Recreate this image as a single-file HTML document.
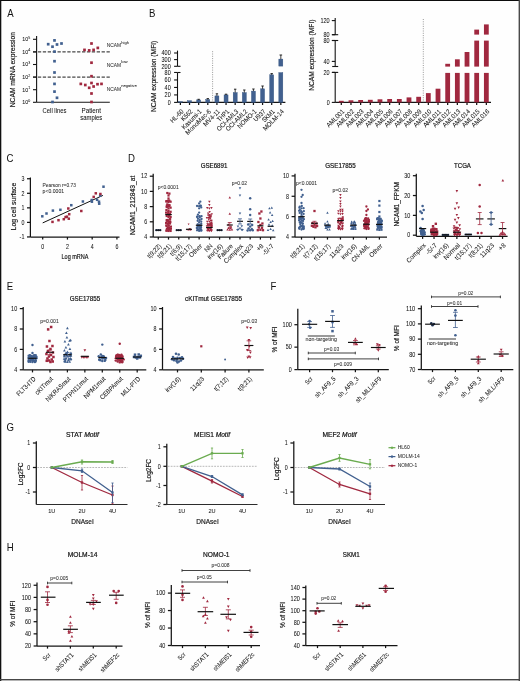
<!DOCTYPE html>
<html><head><meta charset="utf-8"><style>
html,body{margin:0;padding:0;background:#fff;}
svg{display:block;font-family:"Liberation Sans", sans-serif;will-change:transform;}
text{stroke:#141414;stroke-width:0.05px;}
</style></head><body>
<svg width="520" height="681" viewBox="0 0 520 681">
<rect width="520" height="681" fill="#fefefe"/>
<rect x="0" y="0" width="520" height="1" fill="#0c0c0c"/>
<rect x="0" y="0" width="1.3" height="681" fill="#101010"/>
<rect x="518.6" y="0" width="1.4" height="681" fill="#4a4a4a"/>
<rect x="0" y="679" width="520" height="1.4" fill="#464646"/>
<text x="0" y="0" font-size="11.2" fill="#111" style="stroke:none" transform="translate(7.3 16.5) scale(0.86 1)">A</text>
<line x1="36.6" y1="36" x2="36.6" y2="102.3" stroke="#141414" stroke-width="1.1"/>
<line x1="36.6" y1="102.3" x2="109.8" y2="102.3" stroke="#141414" stroke-width="1.1"/>
<line x1="33" y1="102.3" x2="36.6" y2="102.3" stroke="#141414" stroke-width="1.1"/>
<text x="28.2" y="104.2" font-size="5.3" fill="#141414" text-anchor="end">10</text>
<text x="28.3" y="101.7" font-size="3.6" fill="#141414">0</text>
<line x1="33" y1="89.7" x2="36.6" y2="89.7" stroke="#141414" stroke-width="1.1"/>
<text x="28.2" y="91.6" font-size="5.3" fill="#141414" text-anchor="end">10</text>
<text x="28.3" y="89.1" font-size="3.6" fill="#141414">1</text>
<line x1="33" y1="77.1" x2="36.6" y2="77.1" stroke="#141414" stroke-width="1.1"/>
<text x="28.2" y="79" font-size="5.3" fill="#141414" text-anchor="end">10</text>
<text x="28.3" y="76.5" font-size="3.6" fill="#141414">2</text>
<line x1="33" y1="64.5" x2="36.6" y2="64.5" stroke="#141414" stroke-width="1.1"/>
<text x="28.2" y="66.4" font-size="5.3" fill="#141414" text-anchor="end">10</text>
<text x="28.3" y="63.9" font-size="3.6" fill="#141414">3</text>
<line x1="33" y1="51.9" x2="36.6" y2="51.9" stroke="#141414" stroke-width="1.1"/>
<text x="28.2" y="53.8" font-size="5.3" fill="#141414" text-anchor="end">10</text>
<text x="28.3" y="51.3" font-size="3.6" fill="#141414">4</text>
<line x1="33" y1="39.3" x2="36.6" y2="39.3" stroke="#141414" stroke-width="1.1"/>
<text x="28.2" y="41.2" font-size="5.3" fill="#141414" text-anchor="end">10</text>
<text x="28.3" y="38.7" font-size="3.6" fill="#141414">5</text>
<line x1="33" y1="51.9" x2="109.8" y2="51.9" stroke="#1a1a1a" stroke-width="1" stroke-dasharray="3.3 1.6"/>
<line x1="33" y1="77.1" x2="109.8" y2="77.1" stroke="#1a1a1a" stroke-width="1" stroke-dasharray="3.3 1.6"/>
<text x="12.6" y="69.6" font-size="6.85" fill="#141414" text-anchor="middle" transform="rotate(-90 12.6 69.6)" textLength="75.34" lengthAdjust="spacingAndGlyphs" dominant-baseline="central" style="stroke-width:0.16px">NCAM mRNA expression</text>
<rect x="53.15" y="39.05" width="2.7" height="2.7" fill="#41608f"/>
<rect x="46.85" y="42.85" width="2.7" height="2.7" fill="#41608f"/>
<rect x="51.15" y="45.35" width="2.7" height="2.7" fill="#41608f"/>
<rect x="55.65" y="43.15" width="2.7" height="2.7" fill="#41608f"/>
<rect x="60.15" y="42.15" width="2.7" height="2.7" fill="#41608f"/>
<rect x="53.15" y="50.25" width="2.7" height="2.7" fill="#41608f"/>
<rect x="53.15" y="59.85" width="2.7" height="2.7" fill="#41608f"/>
<rect x="53.15" y="71.15" width="2.7" height="2.7" fill="#41608f"/>
<rect x="53.15" y="82.55" width="2.7" height="2.7" fill="#41608f"/>
<rect x="53.15" y="90.25" width="2.7" height="2.7" fill="#41608f"/>
<rect x="55.65" y="96.45" width="2.7" height="2.7" fill="#41608f"/>
<rect x="51.15" y="100.65" width="2.7" height="2.7" fill="#41608f"/>
<rect x="90.15" y="42.15" width="2.7" height="2.7" fill="#a0283f"/>
<rect x="83.15" y="48.55" width="2.7" height="2.7" fill="#a0283f"/>
<rect x="87.85" y="49.05" width="2.7" height="2.7" fill="#a0283f"/>
<rect x="92.25" y="48.55" width="2.7" height="2.7" fill="#a0283f"/>
<rect x="96.45" y="46.55" width="2.7" height="2.7" fill="#a0283f"/>
<rect x="90.15" y="61.35" width="2.7" height="2.7" fill="#a0283f"/>
<rect x="90.15" y="74.85" width="2.7" height="2.7" fill="#a0283f"/>
<rect x="79.45" y="82.55" width="2.7" height="2.7" fill="#a0283f"/>
<rect x="83.95" y="83.65" width="2.7" height="2.7" fill="#a0283f"/>
<rect x="87.85" y="86.45" width="2.7" height="2.7" fill="#a0283f"/>
<rect x="90.15" y="81.65" width="2.7" height="2.7" fill="#a0283f"/>
<rect x="92.25" y="85.15" width="2.7" height="2.7" fill="#a0283f"/>
<rect x="96.15" y="82.85" width="2.7" height="2.7" fill="#a0283f"/>
<rect x="100.15" y="82.55" width="2.7" height="2.7" fill="#a0283f"/>
<rect x="90.15" y="92.15" width="2.7" height="2.7" fill="#a0283f"/>
<rect x="90.15" y="100.65" width="2.7" height="2.7" fill="#a0283f"/>
<text x="54.5" y="112.5" font-size="6.3" fill="#141414" text-anchor="middle" textLength="23.8" lengthAdjust="spacingAndGlyphs">Cell lines</text>
<text x="91.3" y="112.5" font-size="6.3" fill="#141414" text-anchor="middle" textLength="19.5" lengthAdjust="spacingAndGlyphs">Patient</text>
<text x="91.3" y="120" font-size="6.3" fill="#141414" text-anchor="middle" textLength="22" lengthAdjust="spacingAndGlyphs">samples</text>
<text x="106.7" y="47" font-size="5.4" fill="#333" textLength="14.3" lengthAdjust="spacingAndGlyphs">NCAM</text>
<text x="121.2" y="43.7" font-size="3.6" fill="#333" textLength="7.8" lengthAdjust="spacingAndGlyphs">high</text>
<text x="106.7" y="66.7" font-size="5.4" fill="#333" textLength="14.3" lengthAdjust="spacingAndGlyphs">NCAM</text>
<text x="121.2" y="63.4" font-size="3.6" fill="#333" textLength="6.4" lengthAdjust="spacingAndGlyphs">low</text>
<text x="106.7" y="90.6" font-size="5.4" fill="#333" textLength="14.3" lengthAdjust="spacingAndGlyphs">NCAM</text>
<text x="121.2" y="87.3" font-size="3.6" fill="#333" textLength="15.5" lengthAdjust="spacingAndGlyphs">negative</text>
<text x="0" y="0" font-size="11.2" fill="#111" style="stroke:none" transform="translate(149.05 16.7) scale(0.86 1)">B</text>
<line x1="177.5" y1="50.6" x2="177.5" y2="66.3" stroke="#141414" stroke-width="1.1"/>
<line x1="177.5" y1="72.5" x2="177.5" y2="102.4" stroke="#141414" stroke-width="1.1"/>
<line x1="174.1" y1="53" x2="177.5" y2="53" stroke="#141414" stroke-width="1.1"/>
<text x="170.7" y="55.25" font-size="7.14" fill="#141414" text-anchor="end" textLength="9.2" lengthAdjust="spacingAndGlyphs">400</text>
<line x1="174.1" y1="59.6" x2="177.5" y2="59.6" stroke="#141414" stroke-width="1.1"/>
<text x="170.7" y="61.85" font-size="7.14" fill="#141414" text-anchor="end" textLength="9.2" lengthAdjust="spacingAndGlyphs">300</text>
<line x1="174.1" y1="66.3" x2="177.5" y2="66.3" stroke="#141414" stroke-width="1.1"/>
<text x="170.7" y="68.55" font-size="7.14" fill="#141414" text-anchor="end" textLength="9.2" lengthAdjust="spacingAndGlyphs">200</text>
<line x1="177.5" y1="66.3" x2="180.5" y2="66.3" stroke="#141414" stroke-width="1.1"/>
<line x1="174.1" y1="72.48" x2="177.5" y2="72.48" stroke="#141414" stroke-width="1.1"/>
<text x="170.7" y="74.73" font-size="7.14" fill="#141414" text-anchor="end" textLength="6.08" lengthAdjust="spacingAndGlyphs">80</text>
<line x1="174.1" y1="79.96" x2="177.5" y2="79.96" stroke="#141414" stroke-width="1.1"/>
<text x="170.7" y="82.21" font-size="7.14" fill="#141414" text-anchor="end" textLength="6.08" lengthAdjust="spacingAndGlyphs">60</text>
<line x1="174.1" y1="87.44" x2="177.5" y2="87.44" stroke="#141414" stroke-width="1.1"/>
<text x="170.7" y="89.69" font-size="7.14" fill="#141414" text-anchor="end" textLength="6.08" lengthAdjust="spacingAndGlyphs">40</text>
<line x1="174.1" y1="94.92" x2="177.5" y2="94.92" stroke="#141414" stroke-width="1.1"/>
<text x="170.7" y="97.17" font-size="7.14" fill="#141414" text-anchor="end" textLength="6.08" lengthAdjust="spacingAndGlyphs">20</text>
<line x1="174.1" y1="102.4" x2="177.5" y2="102.4" stroke="#141414" stroke-width="1.1"/>
<text x="170.7" y="104.65" font-size="7.14" fill="#141414" text-anchor="end" textLength="2.95" lengthAdjust="spacingAndGlyphs">0</text>
<line x1="177.5" y1="72.5" x2="180.5" y2="72.5" stroke="#141414" stroke-width="1.1"/>
<text x="153.8" y="76.4" font-size="6.85" fill="#141414" text-anchor="middle" transform="rotate(-90 153.8 76.4)" textLength="71.31" lengthAdjust="spacingAndGlyphs" dominant-baseline="central" style="stroke-width:0.16px">NCAM expression (MFI)</text>
<line x1="177.5" y1="102.4" x2="285.4" y2="102.4" stroke="#141414" stroke-width="1.25"/>
<line x1="180.4" y1="102.4" x2="180.4" y2="105" stroke="#141414" stroke-width="1.25"/>
<line x1="189.53" y1="102.4" x2="189.53" y2="105" stroke="#141414" stroke-width="1.25"/>
<line x1="198.66" y1="102.4" x2="198.66" y2="105" stroke="#141414" stroke-width="1.25"/>
<line x1="207.79" y1="102.4" x2="207.79" y2="105" stroke="#141414" stroke-width="1.25"/>
<line x1="216.92" y1="102.4" x2="216.92" y2="105" stroke="#141414" stroke-width="1.25"/>
<line x1="226.05" y1="102.4" x2="226.05" y2="105" stroke="#141414" stroke-width="1.25"/>
<line x1="235.18" y1="102.4" x2="235.18" y2="105" stroke="#141414" stroke-width="1.25"/>
<line x1="244.31" y1="102.4" x2="244.31" y2="105" stroke="#141414" stroke-width="1.25"/>
<line x1="253.44" y1="102.4" x2="253.44" y2="105" stroke="#141414" stroke-width="1.25"/>
<line x1="262.57" y1="102.4" x2="262.57" y2="105" stroke="#141414" stroke-width="1.25"/>
<line x1="271.7" y1="102.4" x2="271.7" y2="105" stroke="#141414" stroke-width="1.25"/>
<line x1="280.83" y1="102.4" x2="280.83" y2="105" stroke="#141414" stroke-width="1.25"/>
<line x1="212.6" y1="51.2" x2="212.6" y2="102.4" stroke="#555" stroke-width="0.6" stroke-dasharray="1.0 1.3"/>
<rect x="178.4" y="101.6" width="4" height="0.8" fill="#41608f" stroke="#30507e" stroke-width="0.4"/>
<rect x="187.53" y="100.7" width="4" height="1.7" fill="#41608f" stroke="#30507e" stroke-width="0.4"/>
<rect x="196.66" y="99.9" width="4" height="2.5" fill="#41608f" stroke="#30507e" stroke-width="0.4"/>
<line x1="198.66" y1="99.3" x2="198.66" y2="99.9" stroke="#111" stroke-width="0.8"/>
<line x1="197.46" y1="99.3" x2="199.86" y2="99.3" stroke="#111" stroke-width="0.9"/>
<rect x="205.79" y="99.5" width="4" height="2.9" fill="#41608f" stroke="#30507e" stroke-width="0.4"/>
<line x1="207.79" y1="98.6" x2="207.79" y2="99.5" stroke="#111" stroke-width="0.8"/>
<line x1="206.59" y1="98.6" x2="208.99" y2="98.6" stroke="#111" stroke-width="0.9"/>
<rect x="214.92" y="95.9" width="4" height="6.5" fill="#41608f" stroke="#30507e" stroke-width="0.4"/>
<line x1="216.92" y1="93.8" x2="216.92" y2="95.9" stroke="#111" stroke-width="0.8"/>
<line x1="215.72" y1="93.8" x2="218.12" y2="93.8" stroke="#111" stroke-width="0.9"/>
<rect x="224.05" y="94.9" width="4" height="7.5" fill="#41608f" stroke="#30507e" stroke-width="0.4"/>
<line x1="226.05" y1="94.2" x2="226.05" y2="94.9" stroke="#111" stroke-width="0.8"/>
<line x1="224.85" y1="94.2" x2="227.25" y2="94.2" stroke="#111" stroke-width="0.9"/>
<rect x="233.18" y="92.6" width="4" height="9.8" fill="#41608f" stroke="#30507e" stroke-width="0.4"/>
<line x1="235.18" y1="89.2" x2="235.18" y2="92.6" stroke="#111" stroke-width="0.8"/>
<line x1="233.98" y1="89.2" x2="236.38" y2="89.2" stroke="#111" stroke-width="0.9"/>
<rect x="242.31" y="92.6" width="4" height="9.8" fill="#41608f" stroke="#30507e" stroke-width="0.4"/>
<line x1="244.31" y1="90" x2="244.31" y2="92.6" stroke="#111" stroke-width="0.8"/>
<line x1="243.11" y1="90" x2="245.51" y2="90" stroke="#111" stroke-width="0.9"/>
<rect x="251.44" y="91.1" width="4" height="11.3" fill="#41608f" stroke="#30507e" stroke-width="0.4"/>
<line x1="253.44" y1="89" x2="253.44" y2="91.1" stroke="#111" stroke-width="0.8"/>
<line x1="252.24" y1="89" x2="254.64" y2="89" stroke="#111" stroke-width="0.9"/>
<rect x="260.57" y="88.8" width="4" height="13.6" fill="#41608f" stroke="#30507e" stroke-width="0.4"/>
<line x1="262.57" y1="86" x2="262.57" y2="88.8" stroke="#111" stroke-width="0.8"/>
<line x1="261.37" y1="86" x2="263.77" y2="86" stroke="#111" stroke-width="0.9"/>
<rect x="269.7" y="74.8" width="4" height="27.6" fill="#41608f" stroke="#30507e" stroke-width="0.4"/>
<line x1="271.7" y1="73.6" x2="271.7" y2="74.8" stroke="#111" stroke-width="0.8"/>
<line x1="270.5" y1="73.6" x2="272.9" y2="73.6" stroke="#111" stroke-width="0.9"/>
<rect x="278.83" y="72.6" width="4" height="29.8" fill="#41608f" stroke="#30507e" stroke-width="0.4"/>
<rect x="278.83" y="59.1" width="4" height="7" fill="#41608f" stroke="#30507e" stroke-width="0.4"/>
<line x1="280.83" y1="55" x2="280.83" y2="59.1" stroke="#111" stroke-width="0.8"/>
<line x1="279.53" y1="55" x2="282.13" y2="55" stroke="#111" stroke-width="0.9"/>
<text x="182.2" y="110.2" font-size="6.6" fill="#141414" text-anchor="end" transform="rotate(-45 182.2 110.2)" textLength="16.02" lengthAdjust="spacingAndGlyphs" dominant-baseline="central">HL-60</text>
<text x="191.33" y="110.2" font-size="6.6" fill="#141414" text-anchor="end" transform="rotate(-45 191.33 110.2)" textLength="13.54" lengthAdjust="spacingAndGlyphs" dominant-baseline="central">K562</text>
<text x="200.46" y="110.2" font-size="6.6" fill="#141414" text-anchor="end" transform="rotate(-45 200.46 110.2)" textLength="25.27" lengthAdjust="spacingAndGlyphs" dominant-baseline="central">Kasumi-1</text>
<text x="209.59" y="110.2" font-size="6.6" fill="#141414" text-anchor="end" transform="rotate(-45 209.59 110.2)" textLength="32.87" lengthAdjust="spacingAndGlyphs" dominant-baseline="central">MonoMac-6</text>
<text x="218.72" y="110.2" font-size="6.6" fill="#141414" text-anchor="end" transform="rotate(-45 218.72 110.2)" textLength="20.97" lengthAdjust="spacingAndGlyphs" dominant-baseline="central">MV4-11</text>
<text x="227.85" y="110.2" font-size="6.6" fill="#141414" text-anchor="end" transform="rotate(-45 227.85 110.2)" textLength="14.28" lengthAdjust="spacingAndGlyphs" dominant-baseline="central">THP1</text>
<text x="236.98" y="110.2" font-size="6.6" fill="#141414" text-anchor="end" transform="rotate(-45 236.98 110.2)" textLength="27.63" lengthAdjust="spacingAndGlyphs" dominant-baseline="central">OCI-AML3</text>
<text x="246.11" y="110.2" font-size="6.6" fill="#141414" text-anchor="end" transform="rotate(-45 246.11 110.2)" textLength="27.63" lengthAdjust="spacingAndGlyphs" dominant-baseline="central">OCI-AML2</text>
<text x="255.24" y="110.2" font-size="6.6" fill="#141414" text-anchor="end" transform="rotate(-45 255.24 110.2)" textLength="23.96" lengthAdjust="spacingAndGlyphs" dominant-baseline="central">NOMO-1</text>
<text x="264.37" y="110.2" font-size="6.6" fill="#141414" text-anchor="end" transform="rotate(-45 264.37 110.2)" textLength="14.23" lengthAdjust="spacingAndGlyphs" dominant-baseline="central">U937</text>
<text x="273.5" y="110.2" font-size="6.6" fill="#141414" text-anchor="end" transform="rotate(-45 273.5 110.2)" textLength="15.33" lengthAdjust="spacingAndGlyphs" dominant-baseline="central">SKM1</text>
<text x="282.63" y="110.2" font-size="6.6" fill="#141414" text-anchor="end" transform="rotate(-45 282.63 110.2)" textLength="26.88" lengthAdjust="spacingAndGlyphs" dominant-baseline="central">MOLM-14</text>
<line x1="335.2" y1="18.1" x2="335.2" y2="34.7" stroke="#141414" stroke-width="1.1"/>
<line x1="335.2" y1="40.5" x2="335.2" y2="66.5" stroke="#141414" stroke-width="1.1"/>
<line x1="335.2" y1="72.4" x2="335.2" y2="102.4" stroke="#141414" stroke-width="1.1"/>
<line x1="332.2" y1="34.7" x2="338.2" y2="34.7" stroke="#141414" stroke-width="1.1"/>
<line x1="332.2" y1="40.5" x2="338.2" y2="40.5" stroke="#141414" stroke-width="1.1"/>
<line x1="332.2" y1="66.5" x2="338.2" y2="66.5" stroke="#141414" stroke-width="1.1"/>
<line x1="332.2" y1="72.4" x2="338.2" y2="72.4" stroke="#141414" stroke-width="1.1"/>
<line x1="331.8" y1="20.6" x2="335.2" y2="20.6" stroke="#141414" stroke-width="1.1"/>
<text x="329.6" y="22.85" font-size="7.14" fill="#141414" text-anchor="end" textLength="9.2" lengthAdjust="spacingAndGlyphs">120</text>
<line x1="331.8" y1="34.7" x2="335.2" y2="34.7" stroke="#141414" stroke-width="1.1"/>
<text x="329.6" y="36.95" font-size="7.14" fill="#141414" text-anchor="end" textLength="6.08" lengthAdjust="spacingAndGlyphs">80</text>
<line x1="331.8" y1="40.5" x2="335.2" y2="40.5" stroke="#141414" stroke-width="1.1"/>
<text x="329.6" y="42.75" font-size="7.14" fill="#141414" text-anchor="end" textLength="6.08" lengthAdjust="spacingAndGlyphs">80</text>
<line x1="331.8" y1="61.4" x2="335.2" y2="61.4" stroke="#141414" stroke-width="1.1"/>
<text x="329.6" y="63.65" font-size="7.14" fill="#141414" text-anchor="end" textLength="6.08" lengthAdjust="spacingAndGlyphs">40</text>
<line x1="331.8" y1="72.4" x2="335.2" y2="72.4" stroke="#141414" stroke-width="1.1"/>
<text x="329.6" y="74.65" font-size="7.14" fill="#141414" text-anchor="end" textLength="6.08" lengthAdjust="spacingAndGlyphs">20</text>
<line x1="331.8" y1="102.4" x2="335.2" y2="102.4" stroke="#141414" stroke-width="1.1"/>
<text x="329.6" y="104.65" font-size="7.14" fill="#141414" text-anchor="end" textLength="2.95" lengthAdjust="spacingAndGlyphs">0</text>
<text x="312" y="55.2" font-size="6.85" fill="#141414" text-anchor="middle" transform="rotate(-90 312 55.2)" textLength="71.31" lengthAdjust="spacingAndGlyphs" dominant-baseline="central" style="stroke-width:0.16px">NCAM expression (MFI)</text>
<line x1="335.2" y1="102.4" x2="491" y2="102.4" stroke="#141414" stroke-width="1.25"/>
<line x1="341.3" y1="102.4" x2="341.3" y2="105" stroke="#141414" stroke-width="1.25"/>
<line x1="350.97" y1="102.4" x2="350.97" y2="105" stroke="#141414" stroke-width="1.25"/>
<line x1="360.64" y1="102.4" x2="360.64" y2="105" stroke="#141414" stroke-width="1.25"/>
<line x1="370.31" y1="102.4" x2="370.31" y2="105" stroke="#141414" stroke-width="1.25"/>
<line x1="379.98" y1="102.4" x2="379.98" y2="105" stroke="#141414" stroke-width="1.25"/>
<line x1="389.65" y1="102.4" x2="389.65" y2="105" stroke="#141414" stroke-width="1.25"/>
<line x1="399.32" y1="102.4" x2="399.32" y2="105" stroke="#141414" stroke-width="1.25"/>
<line x1="408.99" y1="102.4" x2="408.99" y2="105" stroke="#141414" stroke-width="1.25"/>
<line x1="418.66" y1="102.4" x2="418.66" y2="105" stroke="#141414" stroke-width="1.25"/>
<line x1="428.33" y1="102.4" x2="428.33" y2="105" stroke="#141414" stroke-width="1.25"/>
<line x1="438" y1="102.4" x2="438" y2="105" stroke="#141414" stroke-width="1.25"/>
<line x1="447.67" y1="102.4" x2="447.67" y2="105" stroke="#141414" stroke-width="1.25"/>
<line x1="457.34" y1="102.4" x2="457.34" y2="105" stroke="#141414" stroke-width="1.25"/>
<line x1="467.01" y1="102.4" x2="467.01" y2="105" stroke="#141414" stroke-width="1.25"/>
<line x1="476.68" y1="102.4" x2="476.68" y2="105" stroke="#141414" stroke-width="1.25"/>
<line x1="486.35" y1="102.4" x2="486.35" y2="105" stroke="#141414" stroke-width="1.25"/>
<line x1="423.3" y1="19" x2="423.3" y2="102.4" stroke="#555" stroke-width="0.6" stroke-dasharray="1.0 1.3"/>
<rect x="338.9" y="100.8" width="4.8" height="1.6" fill="#a0283f"/>
<rect x="348.57" y="100.3" width="4.8" height="2.1" fill="#a0283f"/>
<rect x="358.24" y="100" width="4.8" height="2.4" fill="#a0283f"/>
<rect x="367.91" y="99.8" width="4.8" height="2.6" fill="#a0283f"/>
<rect x="377.58" y="99.3" width="4.8" height="3.1" fill="#a0283f"/>
<rect x="387.25" y="99" width="4.8" height="3.4" fill="#a0283f"/>
<rect x="396.92" y="99" width="4.8" height="3.4" fill="#a0283f"/>
<rect x="406.59" y="97.4" width="4.8" height="5" fill="#a0283f"/>
<rect x="416.26" y="96.8" width="4.8" height="5.6" fill="#a0283f"/>
<rect x="425.93" y="93.1" width="4.8" height="9.3" fill="#a0283f"/>
<rect x="435.6" y="88.7" width="4.8" height="13.7" fill="#a0283f"/>
<rect x="445.27" y="72.9" width="4.8" height="29.5" fill="#a0283f"/>
<rect x="445.27" y="63.8" width="4.8" height="2.8" fill="#a0283f"/>
<rect x="454.94" y="72.9" width="4.8" height="29.5" fill="#a0283f"/>
<rect x="454.94" y="59.3" width="4.8" height="7.3" fill="#a0283f"/>
<rect x="464.61" y="72.9" width="4.8" height="29.5" fill="#a0283f"/>
<rect x="464.61" y="52" width="4.8" height="14.6" fill="#a0283f"/>
<rect x="474.28" y="72.9" width="4.8" height="29.5" fill="#a0283f"/>
<rect x="474.28" y="40.6" width="4.8" height="26" fill="#a0283f"/>
<rect x="474.28" y="29.6" width="4.8" height="5" fill="#a0283f"/>
<rect x="483.95" y="72.9" width="4.8" height="29.5" fill="#a0283f"/>
<rect x="483.95" y="40.6" width="4.8" height="26" fill="#a0283f"/>
<rect x="483.95" y="24.4" width="4.8" height="10.2" fill="#a0283f"/>
<text x="343.1" y="110.2" font-size="6.6" fill="#141414" text-anchor="end" transform="rotate(-45 343.1 110.2)" textLength="22.42" lengthAdjust="spacingAndGlyphs" dominant-baseline="central">AML001</text>
<text x="352.77" y="110.2" font-size="6.6" fill="#141414" text-anchor="end" transform="rotate(-45 352.77 110.2)" textLength="22.42" lengthAdjust="spacingAndGlyphs" dominant-baseline="central">AML002</text>
<text x="362.44" y="110.2" font-size="6.6" fill="#141414" text-anchor="end" transform="rotate(-45 362.44 110.2)" textLength="22.42" lengthAdjust="spacingAndGlyphs" dominant-baseline="central">AML003</text>
<text x="372.11" y="110.2" font-size="6.6" fill="#141414" text-anchor="end" transform="rotate(-45 372.11 110.2)" textLength="22.42" lengthAdjust="spacingAndGlyphs" dominant-baseline="central">AML004</text>
<text x="381.78" y="110.2" font-size="6.6" fill="#141414" text-anchor="end" transform="rotate(-45 381.78 110.2)" textLength="22.42" lengthAdjust="spacingAndGlyphs" dominant-baseline="central">AML005</text>
<text x="391.45" y="110.2" font-size="6.6" fill="#141414" text-anchor="end" transform="rotate(-45 391.45 110.2)" textLength="22.42" lengthAdjust="spacingAndGlyphs" dominant-baseline="central">AML006</text>
<text x="401.12" y="110.2" font-size="6.6" fill="#141414" text-anchor="end" transform="rotate(-45 401.12 110.2)" textLength="22.42" lengthAdjust="spacingAndGlyphs" dominant-baseline="central">AML007</text>
<text x="410.79" y="110.2" font-size="6.6" fill="#141414" text-anchor="end" transform="rotate(-45 410.79 110.2)" textLength="22.42" lengthAdjust="spacingAndGlyphs" dominant-baseline="central">AML008</text>
<text x="420.46" y="110.2" font-size="6.6" fill="#141414" text-anchor="end" transform="rotate(-45 420.46 110.2)" textLength="22.42" lengthAdjust="spacingAndGlyphs" dominant-baseline="central">AML009</text>
<text x="430.13" y="110.2" font-size="6.6" fill="#141414" text-anchor="end" transform="rotate(-45 430.13 110.2)" textLength="22.42" lengthAdjust="spacingAndGlyphs" dominant-baseline="central">AML010</text>
<text x="439.8" y="110.2" font-size="6.6" fill="#141414" text-anchor="end" transform="rotate(-45 439.8 110.2)" textLength="22.42" lengthAdjust="spacingAndGlyphs" dominant-baseline="central">AML011</text>
<text x="449.47" y="110.2" font-size="6.6" fill="#141414" text-anchor="end" transform="rotate(-45 449.47 110.2)" textLength="22.42" lengthAdjust="spacingAndGlyphs" dominant-baseline="central">AML012</text>
<text x="459.14" y="110.2" font-size="6.6" fill="#141414" text-anchor="end" transform="rotate(-45 459.14 110.2)" textLength="22.42" lengthAdjust="spacingAndGlyphs" dominant-baseline="central">AML013</text>
<text x="468.81" y="110.2" font-size="6.6" fill="#141414" text-anchor="end" transform="rotate(-45 468.81 110.2)" textLength="22.42" lengthAdjust="spacingAndGlyphs" dominant-baseline="central">AML014</text>
<text x="478.48" y="110.2" font-size="6.6" fill="#141414" text-anchor="end" transform="rotate(-45 478.48 110.2)" textLength="22.42" lengthAdjust="spacingAndGlyphs" dominant-baseline="central">AML015</text>
<text x="488.15" y="110.2" font-size="6.6" fill="#141414" text-anchor="end" transform="rotate(-45 488.15 110.2)" textLength="22.42" lengthAdjust="spacingAndGlyphs" dominant-baseline="central">AML016</text>
<text x="0" y="0" font-size="11.2" fill="#111" style="stroke:none" transform="translate(6.45 162.4) scale(0.86 1)">C</text>
<line x1="30.4" y1="177.5" x2="30.4" y2="237" stroke="#141414" stroke-width="1.25"/>
<line x1="27" y1="178.75" x2="30.4" y2="178.75" stroke="#141414" stroke-width="1.25"/>
<text x="24.4" y="181" font-size="7.14" fill="#141414" text-anchor="end" textLength="2.95" lengthAdjust="spacingAndGlyphs">3</text>
<line x1="27" y1="193.3" x2="30.4" y2="193.3" stroke="#141414" stroke-width="1.25"/>
<text x="24.4" y="195.55" font-size="7.14" fill="#141414" text-anchor="end" textLength="2.95" lengthAdjust="spacingAndGlyphs">2</text>
<line x1="27" y1="207.85" x2="30.4" y2="207.85" stroke="#141414" stroke-width="1.25"/>
<text x="24.4" y="210.1" font-size="7.14" fill="#141414" text-anchor="end" textLength="2.95" lengthAdjust="spacingAndGlyphs">1</text>
<line x1="27" y1="222.4" x2="30.4" y2="222.4" stroke="#141414" stroke-width="1.25"/>
<text x="24.4" y="224.65" font-size="7.14" fill="#141414" text-anchor="end" textLength="2.95" lengthAdjust="spacingAndGlyphs">0</text>
<line x1="27" y1="236.95" x2="30.4" y2="236.95" stroke="#141414" stroke-width="1.25"/>
<text x="24.4" y="239.2" font-size="7.14" fill="#141414" text-anchor="end" textLength="4.82" lengthAdjust="spacingAndGlyphs">-1</text>
<line x1="30.4" y1="237" x2="119.5" y2="237" stroke="#141414" stroke-width="1.25"/>
<line x1="42.7" y1="237" x2="42.7" y2="239.6" stroke="#141414" stroke-width="1.25"/>
<line x1="67.44" y1="237" x2="67.44" y2="239.6" stroke="#141414" stroke-width="1.25"/>
<line x1="92.18" y1="237" x2="92.18" y2="239.6" stroke="#141414" stroke-width="1.25"/>
<line x1="116.92" y1="237" x2="116.92" y2="239.6" stroke="#141414" stroke-width="1.25"/>
<text x="42.7" y="248.8" font-size="7.14" fill="#141414" text-anchor="middle" textLength="2.95" lengthAdjust="spacingAndGlyphs">0</text>
<text x="67.44" y="248.8" font-size="7.14" fill="#141414" text-anchor="middle" textLength="2.95" lengthAdjust="spacingAndGlyphs">2</text>
<text x="92.18" y="248.8" font-size="7.14" fill="#141414" text-anchor="middle" textLength="2.95" lengthAdjust="spacingAndGlyphs">4</text>
<text x="116.92" y="248.8" font-size="7.14" fill="#141414" text-anchor="middle" textLength="2.95" lengthAdjust="spacingAndGlyphs">6</text>
<text x="75" y="259.4" font-size="6.6" fill="#141414" text-anchor="middle" textLength="27" lengthAdjust="spacingAndGlyphs" style="stroke-width:0.16px">Log mRNA</text>
<text x="13.8" y="206.5" font-size="6.85" fill="#141414" text-anchor="middle" transform="rotate(-90 13.8 206.5)" textLength="47.3" lengthAdjust="spacingAndGlyphs" dominant-baseline="central" style="stroke-width:0.16px">Log cell surface</text>
<line x1="42.7" y1="222.9" x2="102.9" y2="195.4" stroke="#111" stroke-width="1"/>
<rect x="41.05" y="215.05" width="2.5" height="2.5" fill="#41608f"/>
<rect x="45.25" y="212.25" width="2.5" height="2.5" fill="#41608f"/>
<rect x="51.65" y="209.35" width="2.5" height="2.5" fill="#41608f"/>
<rect x="59.15" y="208.55" width="2.5" height="2.5" fill="#41608f"/>
<rect x="70.05" y="203.95" width="2.5" height="2.5" fill="#41608f"/>
<rect x="81.65" y="200.25" width="2.5" height="2.5" fill="#41608f"/>
<rect x="90.45" y="198.75" width="2.5" height="2.5" fill="#41608f"/>
<rect x="90.65" y="200.45" width="2.5" height="2.5" fill="#41608f"/>
<rect x="95.85" y="198.55" width="2.5" height="2.5" fill="#41608f"/>
<rect x="97.75" y="200.45" width="2.5" height="2.5" fill="#41608f"/>
<rect x="97.95" y="202.45" width="2.5" height="2.5" fill="#41608f"/>
<rect x="98.95" y="194.55" width="2.5" height="2.5" fill="#41608f"/>
<rect x="102.25" y="185.45" width="2.5" height="2.5" fill="#41608f"/>
<rect x="51.25" y="220.65" width="2.5" height="2.5" fill="#a0283f"/>
<rect x="57.25" y="218.95" width="2.5" height="2.5" fill="#a0283f"/>
<rect x="62.55" y="217.95" width="2.5" height="2.5" fill="#a0283f"/>
<rect x="64.35" y="215.85" width="2.5" height="2.5" fill="#a0283f"/>
<rect x="67.05" y="207.25" width="2.5" height="2.5" fill="#a0283f"/>
<rect x="67.95" y="212.95" width="2.5" height="2.5" fill="#a0283f"/>
<rect x="67.55" y="217.45" width="2.5" height="2.5" fill="#a0283f"/>
<rect x="80.05" y="209.75" width="2.5" height="2.5" fill="#a0283f"/>
<rect x="92.45" y="195.65" width="2.5" height="2.5" fill="#a0283f"/>
<rect x="94.55" y="192.05" width="2.5" height="2.5" fill="#a0283f"/>
<rect x="99.15" y="192.75" width="2.5" height="2.5" fill="#a0283f"/>
<rect x="65.65" y="215.45" width="2.5" height="2.5" fill="#a0283f"/>
<text x="42.6" y="187" font-size="4.8" fill="#333" textLength="33.3" lengthAdjust="spacingAndGlyphs">Pearson r=0.73</text>
<text x="42.6" y="193.2" font-size="4.8" fill="#333" textLength="21.5" lengthAdjust="spacingAndGlyphs">p&lt;0.0001</text>
<text x="0" y="0" font-size="11.2" fill="#111" style="stroke:none" transform="translate(128.05 162.2) scale(0.86 1)">D</text>
<text x="214" y="168.3" font-size="6.75" fill="#141414" text-anchor="middle" textLength="26.67" lengthAdjust="spacingAndGlyphs" style="stroke-width:0.2px">GSE6891</text>
<line x1="153.2" y1="173.8" x2="153.2" y2="237" stroke="#141414" stroke-width="1.25"/>
<line x1="149.8" y1="176.2" x2="153.2" y2="176.2" stroke="#141414" stroke-width="1.25"/>
<text x="147.2" y="178.45" font-size="7.14" fill="#141414" text-anchor="end" textLength="6.08" lengthAdjust="spacingAndGlyphs">12</text>
<line x1="149.8" y1="191.4" x2="153.2" y2="191.4" stroke="#141414" stroke-width="1.25"/>
<text x="147.2" y="193.65" font-size="7.14" fill="#141414" text-anchor="end" textLength="6.08" lengthAdjust="spacingAndGlyphs">10</text>
<line x1="149.8" y1="206.6" x2="153.2" y2="206.6" stroke="#141414" stroke-width="1.25"/>
<text x="147.2" y="208.85" font-size="7.14" fill="#141414" text-anchor="end" textLength="2.95" lengthAdjust="spacingAndGlyphs">8</text>
<line x1="149.8" y1="221.8" x2="153.2" y2="221.8" stroke="#141414" stroke-width="1.25"/>
<text x="147.2" y="224.05" font-size="7.14" fill="#141414" text-anchor="end" textLength="2.95" lengthAdjust="spacingAndGlyphs">6</text>
<line x1="149.8" y1="237" x2="153.2" y2="237" stroke="#141414" stroke-width="1.25"/>
<text x="147.2" y="239.25" font-size="7.14" fill="#141414" text-anchor="end" textLength="2.95" lengthAdjust="spacingAndGlyphs">4</text>
<line x1="153.2" y1="237" x2="275.5" y2="237" stroke="#141414" stroke-width="1.25"/>
<line x1="158.3" y1="237" x2="158.3" y2="239.6" stroke="#141414" stroke-width="1.25"/>
<line x1="168.51" y1="237" x2="168.51" y2="239.6" stroke="#141414" stroke-width="1.25"/>
<line x1="178.72" y1="237" x2="178.72" y2="239.6" stroke="#141414" stroke-width="1.25"/>
<line x1="188.93" y1="237" x2="188.93" y2="239.6" stroke="#141414" stroke-width="1.25"/>
<line x1="199.14" y1="237" x2="199.14" y2="239.6" stroke="#141414" stroke-width="1.25"/>
<line x1="209.35" y1="237" x2="209.35" y2="239.6" stroke="#141414" stroke-width="1.25"/>
<line x1="219.56" y1="237" x2="219.56" y2="239.6" stroke="#141414" stroke-width="1.25"/>
<line x1="229.77" y1="237" x2="229.77" y2="239.6" stroke="#141414" stroke-width="1.25"/>
<line x1="239.98" y1="237" x2="239.98" y2="239.6" stroke="#141414" stroke-width="1.25"/>
<line x1="250.19" y1="237" x2="250.19" y2="239.6" stroke="#141414" stroke-width="1.25"/>
<line x1="260.4" y1="237" x2="260.4" y2="239.6" stroke="#141414" stroke-width="1.25"/>
<line x1="270.61" y1="237" x2="270.61" y2="239.6" stroke="#141414" stroke-width="1.25"/>
<text x="132.6" y="205.3" font-size="6.85" fill="#141414" text-anchor="middle" transform="rotate(-90 132.6 205.3)" textLength="59.41" lengthAdjust="spacingAndGlyphs" dominant-baseline="central" style="stroke-width:0.16px">NCAM1_212843_at</text>
<circle cx="156.3" cy="230.2" r="1.16" fill="#1d2f4f"/>
<circle cx="158.3" cy="230.2" r="1.16" fill="#1d2f4f"/>
<circle cx="160.3" cy="230.2" r="1.16" fill="#1d2f4f"/>
<line x1="155.7" y1="230.2" x2="160.9" y2="230.2" stroke="#111" stroke-width="1.15"/>
<rect x="167.41" y="229.86" width="2.2" height="2.2" fill="#a0283f"/>
<rect x="169.51" y="229.84" width="2.2" height="2.2" fill="#a0283f"/>
<rect x="165.31" y="229.61" width="2.2" height="2.2" fill="#a0283f"/>
<rect x="165.72" y="229.27" width="2.2" height="2.2" fill="#a0283f"/>
<rect x="167.97" y="228.55" width="2.2" height="2.2" fill="#a0283f"/>
<rect x="169.81" y="227.61" width="2.2" height="2.2" fill="#a0283f"/>
<rect x="165.82" y="227.6" width="2.2" height="2.2" fill="#a0283f"/>
<rect x="168.43" y="227.54" width="2.2" height="2.2" fill="#a0283f"/>
<rect x="167.93" y="227.5" width="2.2" height="2.2" fill="#a0283f"/>
<rect x="166.85" y="226.58" width="2.2" height="2.2" fill="#a0283f"/>
<rect x="167.97" y="226.39" width="2.2" height="2.2" fill="#a0283f"/>
<rect x="169.81" y="225.52" width="2.2" height="2.2" fill="#a0283f"/>
<rect x="165.61" y="224.84" width="2.2" height="2.2" fill="#a0283f"/>
<rect x="167.73" y="224.5" width="2.2" height="2.2" fill="#a0283f"/>
<rect x="165.22" y="224.34" width="2.2" height="2.2" fill="#a0283f"/>
<rect x="166.81" y="222.69" width="2.2" height="2.2" fill="#a0283f"/>
<rect x="168.91" y="222.4" width="2.2" height="2.2" fill="#a0283f"/>
<rect x="167.55" y="221.95" width="2.2" height="2.2" fill="#a0283f"/>
<rect x="165.01" y="221.76" width="2.2" height="2.2" fill="#a0283f"/>
<rect x="167.98" y="221.51" width="2.2" height="2.2" fill="#a0283f"/>
<rect x="167.5" y="220.91" width="2.2" height="2.2" fill="#a0283f"/>
<rect x="169.23" y="220.86" width="2.2" height="2.2" fill="#a0283f"/>
<rect x="168.54" y="220.7" width="2.2" height="2.2" fill="#a0283f"/>
<rect x="165.91" y="219.63" width="2.2" height="2.2" fill="#a0283f"/>
<rect x="166.82" y="219.24" width="2.2" height="2.2" fill="#a0283f"/>
<rect x="166.1" y="219.07" width="2.2" height="2.2" fill="#a0283f"/>
<rect x="165.62" y="218.95" width="2.2" height="2.2" fill="#a0283f"/>
<rect x="168.91" y="218.34" width="2.2" height="2.2" fill="#a0283f"/>
<rect x="168.9" y="218.05" width="2.2" height="2.2" fill="#a0283f"/>
<rect x="167.41" y="216" width="2.2" height="2.2" fill="#a0283f"/>
<rect x="169.51" y="215.95" width="2.2" height="2.2" fill="#a0283f"/>
<rect x="165.61" y="214.91" width="2.2" height="2.2" fill="#a0283f"/>
<rect x="168.32" y="214.7" width="2.2" height="2.2" fill="#a0283f"/>
<rect x="167.93" y="214.51" width="2.2" height="2.2" fill="#a0283f"/>
<rect x="166.81" y="212.81" width="2.2" height="2.2" fill="#a0283f"/>
<rect x="168.91" y="212.62" width="2.2" height="2.2" fill="#a0283f"/>
<rect x="165.01" y="211.53" width="2.2" height="2.2" fill="#a0283f"/>
<rect x="167.13" y="211.09" width="2.2" height="2.2" fill="#a0283f"/>
<rect x="169.51" y="210.67" width="2.2" height="2.2" fill="#a0283f"/>
<rect x="167.41" y="209.71" width="2.2" height="2.2" fill="#a0283f"/>
<rect x="165.31" y="209" width="2.2" height="2.2" fill="#a0283f"/>
<rect x="167.41" y="207.24" width="2.2" height="2.2" fill="#a0283f"/>
<rect x="169.51" y="206.56" width="2.2" height="2.2" fill="#a0283f"/>
<rect x="165.61" y="205.99" width="2.2" height="2.2" fill="#a0283f"/>
<rect x="166.08" y="205.63" width="2.2" height="2.2" fill="#a0283f"/>
<rect x="168.01" y="204.94" width="2.2" height="2.2" fill="#a0283f"/>
<rect x="167.56" y="204.9" width="2.2" height="2.2" fill="#a0283f"/>
<rect x="165.71" y="204.56" width="2.2" height="2.2" fill="#a0283f"/>
<rect x="167.99" y="204.36" width="2.2" height="2.2" fill="#a0283f"/>
<rect x="168.03" y="204.23" width="2.2" height="2.2" fill="#a0283f"/>
<rect x="168.23" y="204.07" width="2.2" height="2.2" fill="#a0283f"/>
<rect x="166.19" y="203.29" width="2.2" height="2.2" fill="#a0283f"/>
<rect x="167.41" y="200.94" width="2.2" height="2.2" fill="#a0283f"/>
<rect x="169.51" y="200.6" width="2.2" height="2.2" fill="#a0283f"/>
<rect x="165.31" y="200.38" width="2.2" height="2.2" fill="#a0283f"/>
<rect x="165.45" y="200" width="2.2" height="2.2" fill="#a0283f"/>
<rect x="166.61" y="199.96" width="2.2" height="2.2" fill="#a0283f"/>
<rect x="168.31" y="199.63" width="2.2" height="2.2" fill="#a0283f"/>
<rect x="167.46" y="199.52" width="2.2" height="2.2" fill="#a0283f"/>
<rect x="167.41" y="197.38" width="2.2" height="2.2" fill="#a0283f"/>
<rect x="167.41" y="194.4" width="2.2" height="2.2" fill="#a0283f"/>
<rect x="168.31" y="192.5" width="2.2" height="2.2" fill="#a0283f"/>
<rect x="166.21" y="191.9" width="2.2" height="2.2" fill="#a0283f"/>
<line x1="165.21" y1="214.6" x2="171.81" y2="214.6" stroke="#111" stroke-width="1.15"/>
<circle cx="176.72" cy="230.2" r="1.16" fill="#1d2f4f"/>
<circle cx="178.72" cy="230.2" r="1.16" fill="#1d2f4f"/>
<circle cx="180.72" cy="230.2" r="1.16" fill="#1d2f4f"/>
<line x1="176.12" y1="230.2" x2="181.32" y2="230.2" stroke="#111" stroke-width="1.15"/>
<path d="M188.93 231.03L189.92 229.24L187.94 229.24Z" fill="#a0283f"/>
<path d="M190.73 230.94L191.72 229.14L189.74 229.14Z" fill="#a0283f"/>
<path d="M187.13 230.84L188.12 229.04L186.14 229.04Z" fill="#a0283f"/>
<path d="M190.94 230.73L191.93 228.94L189.95 228.94Z" fill="#a0283f"/>
<path d="M188.75 230.63L189.74 228.84L187.76 228.84Z" fill="#a0283f"/>
<path d="M189.85 230.53L190.84 228.74L188.86 228.74Z" fill="#a0283f"/>
<path d="M189.92 229.84L190.91 228.04L188.93 228.04Z" fill="#a0283f"/>
<path d="M188.63 225.34L189.62 223.54L187.64 223.54Z" fill="#a0283f"/>
<line x1="185.93" y1="229.3" x2="191.93" y2="229.3" stroke="#111" stroke-width="1.15"/>
<circle cx="199.14" cy="230.93" r="1.16" fill="#41608f"/>
<circle cx="201.24" cy="230.71" r="1.16" fill="#41608f"/>
<circle cx="197.04" cy="230.36" r="1.16" fill="#41608f"/>
<circle cx="201.35" cy="230.19" r="1.16" fill="#41608f"/>
<circle cx="200.92" cy="230.07" r="1.16" fill="#41608f"/>
<circle cx="200.25" cy="229.98" r="1.16" fill="#41608f"/>
<circle cx="197.83" cy="229.62" r="1.16" fill="#41608f"/>
<circle cx="198.33" cy="229.41" r="1.16" fill="#41608f"/>
<circle cx="200.17" cy="228.49" r="1.16" fill="#41608f"/>
<circle cx="200.61" cy="228.21" r="1.16" fill="#41608f"/>
<circle cx="196.82" cy="228.08" r="1.16" fill="#41608f"/>
<circle cx="197.54" cy="228.02" r="1.16" fill="#41608f"/>
<circle cx="201.04" cy="227.39" r="1.16" fill="#41608f"/>
<circle cx="197.31" cy="227.17" r="1.16" fill="#41608f"/>
<circle cx="199.89" cy="226.76" r="1.16" fill="#41608f"/>
<circle cx="198.32" cy="226.6" r="1.16" fill="#41608f"/>
<circle cx="199.84" cy="226.3" r="1.16" fill="#41608f"/>
<circle cx="200.88" cy="226.13" r="1.16" fill="#41608f"/>
<circle cx="199.53" cy="226.07" r="1.16" fill="#41608f"/>
<circle cx="198.62" cy="225.81" r="1.16" fill="#41608f"/>
<circle cx="198.29" cy="225.7" r="1.16" fill="#41608f"/>
<circle cx="199.72" cy="225.49" r="1.16" fill="#41608f"/>
<circle cx="199.76" cy="225.47" r="1.16" fill="#41608f"/>
<circle cx="198.71" cy="225.28" r="1.16" fill="#41608f"/>
<circle cx="198.98" cy="225.08" r="1.16" fill="#41608f"/>
<circle cx="199.31" cy="224.7" r="1.16" fill="#41608f"/>
<circle cx="197.98" cy="224.63" r="1.16" fill="#41608f"/>
<circle cx="197.6" cy="224.51" r="1.16" fill="#41608f"/>
<circle cx="201.24" cy="223.74" r="1.16" fill="#41608f"/>
<circle cx="199.14" cy="222.17" r="1.16" fill="#41608f"/>
<circle cx="201.24" cy="221.59" r="1.16" fill="#41608f"/>
<circle cx="197.64" cy="220.79" r="1.16" fill="#41608f"/>
<circle cx="199.74" cy="220.03" r="1.16" fill="#41608f"/>
<circle cx="201.54" cy="219.03" r="1.16" fill="#41608f"/>
<circle cx="197.94" cy="218.79" r="1.16" fill="#41608f"/>
<circle cx="199.74" cy="217.43" r="1.16" fill="#41608f"/>
<circle cx="197.04" cy="216.92" r="1.16" fill="#41608f"/>
<circle cx="199.47" cy="216.72" r="1.16" fill="#41608f"/>
<circle cx="197.22" cy="216.6" r="1.16" fill="#41608f"/>
<circle cx="201.54" cy="216.18" r="1.16" fill="#41608f"/>
<circle cx="199.61" cy="216.05" r="1.16" fill="#41608f"/>
<circle cx="197.94" cy="214.64" r="1.16" fill="#41608f"/>
<circle cx="199.14" cy="212.58" r="1.16" fill="#41608f"/>
<circle cx="199.14" cy="208.33" r="1.16" fill="#41608f"/>
<circle cx="201.24" cy="207.46" r="1.16" fill="#41608f"/>
<circle cx="199.14" cy="206.18" r="1.16" fill="#41608f"/>
<circle cx="197.04" cy="206.01" r="1.16" fill="#41608f"/>
<circle cx="200.59" cy="205.87" r="1.16" fill="#41608f"/>
<circle cx="200.71" cy="205.6" r="1.16" fill="#41608f"/>
<circle cx="199.14" cy="203.5" r="1.16" fill="#41608f"/>
<circle cx="200.34" cy="201.7" r="1.16" fill="#41608f"/>
<line x1="195.84" y1="225.3" x2="202.44" y2="225.3" stroke="#111" stroke-width="1.15"/>
<path d="M209.35 232.26L210.56 230.06L208.14 230.06Z" fill="#a0283f"/>
<path d="M211.45 232.13L212.66 229.93L210.24 229.93Z" fill="#a0283f"/>
<path d="M207.25 232L208.46 229.8L206.04 229.8Z" fill="#a0283f"/>
<path d="M211.16 231.69L212.37 229.49L209.95 229.49Z" fill="#a0283f"/>
<path d="M208.63 231.64L209.84 229.44L207.42 229.44Z" fill="#a0283f"/>
<path d="M210.75 231.57L211.96 229.37L209.54 229.37Z" fill="#a0283f"/>
<path d="M211.52 231.5L212.73 229.3L210.31 229.3Z" fill="#a0283f"/>
<path d="M208.45 230.42L209.66 228.22L207.24 228.22Z" fill="#a0283f"/>
<path d="M210.64 230.42L211.85 228.22L209.43 228.22Z" fill="#a0283f"/>
<path d="M208.56 230.38L209.77 228.18L207.35 228.18Z" fill="#a0283f"/>
<path d="M207.74 230.19L208.95 227.99L206.53 227.99Z" fill="#a0283f"/>
<path d="M208.62 230.17L209.83 227.97L207.41 227.97Z" fill="#a0283f"/>
<path d="M210.56 230.1L211.77 227.9L209.35 227.9Z" fill="#a0283f"/>
<path d="M207.66 229.86L208.87 227.66L206.45 227.66Z" fill="#a0283f"/>
<path d="M210.11 229.72L211.32 227.52L208.9 227.52Z" fill="#a0283f"/>
<path d="M208.64 229.57L209.85 227.37L207.43 227.37Z" fill="#a0283f"/>
<path d="M207.76 229.36L208.97 227.16L206.55 227.16Z" fill="#a0283f"/>
<path d="M209.01 229.27L210.22 227.07L207.8 227.07Z" fill="#a0283f"/>
<path d="M208.81 229.09L210.02 226.89L207.6 226.89Z" fill="#a0283f"/>
<path d="M209.16 228.64L210.37 226.44L207.95 226.44Z" fill="#a0283f"/>
<path d="M211.75 228.38L212.96 226.18L210.54 226.18Z" fill="#a0283f"/>
<path d="M211.18 227.85L212.39 225.65L209.97 225.65Z" fill="#a0283f"/>
<path d="M211.37 227.8L212.58 225.6L210.16 225.6Z" fill="#a0283f"/>
<path d="M206.95 227.5L208.16 225.3L205.74 225.3Z" fill="#a0283f"/>
<path d="M208.04 227.23L209.25 225.03L206.83 225.03Z" fill="#a0283f"/>
<path d="M211.69 227.15L212.9 224.95L210.48 224.95Z" fill="#a0283f"/>
<path d="M209.89 226.69L211.1 224.49L208.68 224.49Z" fill="#a0283f"/>
<path d="M211.56 226.5L212.77 224.3L210.35 224.3Z" fill="#a0283f"/>
<path d="M210.87 226.25L212.08 224.05L209.66 224.05Z" fill="#a0283f"/>
<path d="M209.47 226.19L210.68 223.99L208.26 223.99Z" fill="#a0283f"/>
<path d="M208.15 225.79L209.36 223.59L206.94 223.59Z" fill="#a0283f"/>
<path d="M211.41 225.69L212.62 223.49L210.2 223.49Z" fill="#a0283f"/>
<path d="M211.75 225.51L212.96 223.31L210.54 223.31Z" fill="#a0283f"/>
<path d="M209.95 225.41L211.16 223.21L208.74 223.21Z" fill="#a0283f"/>
<path d="M207.51 225.39L208.72 223.19L206.3 223.19Z" fill="#a0283f"/>
<path d="M210.9 225.38L212.11 223.18L209.69 223.18Z" fill="#a0283f"/>
<path d="M210.62 224.97L211.83 222.77L209.41 222.77Z" fill="#a0283f"/>
<path d="M211.17 224.08L212.38 221.88L209.96 221.88Z" fill="#a0283f"/>
<path d="M211.64 223.85L212.85 221.65L210.43 221.65Z" fill="#a0283f"/>
<path d="M209.35 223.03L210.56 220.83L208.14 220.83Z" fill="#a0283f"/>
<path d="M207.25 222.9L208.46 220.7L206.04 220.7Z" fill="#a0283f"/>
<path d="M211.63 222.04L212.84 219.84L210.42 219.84Z" fill="#a0283f"/>
<path d="M210.48 221.74L211.69 219.54L209.27 219.54Z" fill="#a0283f"/>
<path d="M208.75 220.64L209.96 218.44L207.54 218.44Z" fill="#a0283f"/>
<path d="M210.55 219.61L211.76 217.41L209.34 217.41Z" fill="#a0283f"/>
<path d="M206.95 219.32L208.16 217.12L205.74 217.12Z" fill="#a0283f"/>
<path d="M208.83 219.17L210.04 216.97L207.62 216.97Z" fill="#a0283f"/>
<path d="M209.5 219.09L210.71 216.89L208.29 216.89Z" fill="#a0283f"/>
<path d="M209.37 218.67L210.58 216.47L208.16 216.47Z" fill="#a0283f"/>
<path d="M210.6 218.1L211.81 215.9L209.39 215.9Z" fill="#a0283f"/>
<path d="M209.96 217.82L211.17 215.62L208.75 215.62Z" fill="#a0283f"/>
<path d="M210.92 217.57L212.13 215.37L209.71 215.37Z" fill="#a0283f"/>
<path d="M208.15 216.77L209.36 214.57L206.94 214.57Z" fill="#a0283f"/>
<path d="M209.42 216.67L210.63 214.47L208.21 214.47Z" fill="#a0283f"/>
<path d="M209.78 216.09L210.99 213.89L208.57 213.89Z" fill="#a0283f"/>
<path d="M211.75 215.44L212.96 213.24L210.54 213.24Z" fill="#a0283f"/>
<path d="M208.15 214.66L209.36 212.46L206.94 212.46Z" fill="#a0283f"/>
<path d="M209.65 213.3L210.86 211.1L208.44 211.1Z" fill="#a0283f"/>
<path d="M209.35 209.76L210.56 207.56L208.14 207.56Z" fill="#a0283f"/>
<path d="M211.45 209.23L212.66 207.03L210.24 207.03Z" fill="#a0283f"/>
<path d="M207.25 209.16L208.46 206.96L206.04 206.96Z" fill="#a0283f"/>
<path d="M209.35 206.26L210.56 204.06L208.14 204.06Z" fill="#a0283f"/>
<path d="M209.35 203.06L210.56 200.87L208.14 200.87Z" fill="#a0283f"/>
<line x1="206.05" y1="227.5" x2="212.65" y2="227.5" stroke="#111" stroke-width="1.15"/>
<circle cx="217.56" cy="230.2" r="1.16" fill="#1d2f4f"/>
<circle cx="219.56" cy="230.2" r="1.16" fill="#1d2f4f"/>
<circle cx="221.56" cy="230.2" r="1.16" fill="#1d2f4f"/>
<line x1="216.96" y1="230.2" x2="222.16" y2="230.2" stroke="#111" stroke-width="1.15"/>
<path d="M229.77 196.18L231.03 198.48L228.51 198.48Z" fill="#a0283f"/>
<path d="M229.77 212.48L231.03 214.78L228.51 214.78Z" fill="#a0283f"/>
<path d="M228.27 223.18L229.53 225.48L227.01 225.48Z" fill="#a0283f"/>
<path d="M230.97 225.18L232.23 227.48L229.71 227.48Z" fill="#a0283f"/>
<path d="M227.57 228.18L228.84 230.48L226.31 230.48Z" fill="#a0283f"/>
<path d="M229.77 228.48L231.03 230.78L228.51 230.78Z" fill="#a0283f"/>
<path d="M231.97 228.18L233.23 230.48L230.71 230.48Z" fill="#a0283f"/>
<path d="M228.77 226.68L230.03 228.98L227.51 228.98Z" fill="#a0283f"/>
<path d="M230.77 226.98L232.03 229.28L229.51 229.28Z" fill="#a0283f"/>
<line x1="226.77" y1="225" x2="232.77" y2="225" stroke="#111" stroke-width="1.15"/>
<line x1="229.77" y1="222.5" x2="229.77" y2="227.3" stroke="#a0283f" stroke-width="0.8"/>
<line x1="227.77" y1="222.5" x2="231.77" y2="222.5" stroke="#a0283f" stroke-width="0.8"/>
<line x1="227.77" y1="227.3" x2="231.77" y2="227.3" stroke="#a0283f" stroke-width="0.8"/>
<path d="M239.98 189.62L241.25 187.32L238.72 187.32Z" fill="#41608f"/>
<path d="M239.98 196.72L241.25 194.42L238.72 194.42Z" fill="#41608f"/>
<path d="M239.98 214.72L241.25 212.42L238.72 212.42Z" fill="#41608f"/>
<path d="M237.98 227.82L239.25 225.52L236.72 225.52Z" fill="#41608f"/>
<path d="M241.78 227.52L243.05 225.22L240.52 225.22Z" fill="#41608f"/>
<path d="M238.48 230.82L239.75 228.52L237.22 228.52Z" fill="#41608f"/>
<path d="M241.48 231.12L242.75 228.82L240.22 228.82Z" fill="#41608f"/>
<path d="M239.98 229.82L241.25 227.52L238.72 227.52Z" fill="#41608f"/>
<path d="M237.38 231.32L238.65 229.02L236.12 229.02Z" fill="#41608f"/>
<path d="M242.58 231.32L243.84 229.02L241.32 229.02Z" fill="#41608f"/>
<line x1="236.98" y1="221.3" x2="242.98" y2="221.3" stroke="#111" stroke-width="1.15"/>
<line x1="239.98" y1="218.8" x2="239.98" y2="224" stroke="#41608f" stroke-width="0.8"/>
<line x1="237.98" y1="218.8" x2="241.98" y2="218.8" stroke="#41608f" stroke-width="0.8"/>
<line x1="237.98" y1="224" x2="241.98" y2="224" stroke="#41608f" stroke-width="0.8"/>
<circle cx="250.19" cy="198.2" r="1.21" fill="#41608f"/>
<circle cx="250.19" cy="209.2" r="1.21" fill="#41608f"/>
<circle cx="250.19" cy="215" r="1.21" fill="#41608f"/>
<circle cx="248.19" cy="224.5" r="1.21" fill="#41608f"/>
<circle cx="252.19" cy="225" r="1.21" fill="#41608f"/>
<circle cx="248.59" cy="228.5" r="1.21" fill="#41608f"/>
<circle cx="251.79" cy="229" r="1.21" fill="#41608f"/>
<circle cx="250.19" cy="230.2" r="1.21" fill="#41608f"/>
<circle cx="247.59" cy="230.5" r="1.21" fill="#41608f"/>
<circle cx="252.79" cy="230.2" r="1.21" fill="#41608f"/>
<circle cx="250.19" cy="226.5" r="1.21" fill="#41608f"/>
<line x1="247.19" y1="221.4" x2="253.19" y2="221.4" stroke="#111" stroke-width="1.15"/>
<line x1="250.19" y1="219" x2="250.19" y2="224" stroke="#41608f" stroke-width="0.8"/>
<line x1="248.19" y1="219" x2="252.19" y2="219" stroke="#41608f" stroke-width="0.8"/>
<line x1="248.19" y1="224" x2="252.19" y2="224" stroke="#41608f" stroke-width="0.8"/>
<rect x="260.25" y="210.35" width="2.3" height="2.3" fill="#a0283f"/>
<rect x="258.25" y="212.35" width="2.3" height="2.3" fill="#a0283f"/>
<rect x="259.25" y="217.35" width="2.3" height="2.3" fill="#a0283f"/>
<rect x="257.25" y="220.85" width="2.3" height="2.3" fill="#a0283f"/>
<rect x="261.25" y="222.35" width="2.3" height="2.3" fill="#a0283f"/>
<rect x="257.65" y="226.35" width="2.3" height="2.3" fill="#a0283f"/>
<rect x="260.85" y="226.65" width="2.3" height="2.3" fill="#a0283f"/>
<rect x="259.25" y="228.65" width="2.3" height="2.3" fill="#a0283f"/>
<rect x="256.65" y="229.05" width="2.3" height="2.3" fill="#a0283f"/>
<rect x="261.85" y="229.05" width="2.3" height="2.3" fill="#a0283f"/>
<rect x="259.25" y="223.85" width="2.3" height="2.3" fill="#a0283f"/>
<line x1="257.4" y1="225.8" x2="263.4" y2="225.8" stroke="#111" stroke-width="1.15"/>
<path d="M269.41 206.88L270.68 209.18L268.15 209.18Z" fill="#41608f"/>
<path d="M271.81 206.48L273.07 208.78L270.55 208.78Z" fill="#41608f"/>
<path d="M270.11 211.18L271.38 213.48L268.85 213.48Z" fill="#41608f"/>
<path d="M272.11 213.68L273.38 215.98L270.85 215.98Z" fill="#41608f"/>
<path d="M268.61 218.18L269.88 220.48L267.35 220.48Z" fill="#41608f"/>
<path d="M272.61 219.68L273.88 221.98L271.35 221.98Z" fill="#41608f"/>
<path d="M269.01 223.18L270.27 225.48L267.75 225.48Z" fill="#41608f"/>
<path d="M272.21 224.18L273.48 226.48L270.95 226.48Z" fill="#41608f"/>
<path d="M270.61 227.68L271.88 229.98L269.35 229.98Z" fill="#41608f"/>
<path d="M268.01 228.68L269.27 230.98L266.75 230.98Z" fill="#41608f"/>
<path d="M273.21 228.88L274.48 231.18L271.95 231.18Z" fill="#41608f"/>
<path d="M270.61 220.68L271.88 222.98L269.35 222.98Z" fill="#41608f"/>
<line x1="267.61" y1="226.3" x2="273.61" y2="226.3" stroke="#111" stroke-width="1.15"/>
<text x="168.2" y="189.3" font-size="5.4" fill="#333" text-anchor="middle" textLength="21" lengthAdjust="spacingAndGlyphs">p&lt;0.0001</text>
<text x="239.4" y="185.3" font-size="5.4" fill="#333" text-anchor="middle" textLength="15.5" lengthAdjust="spacingAndGlyphs">p=0.02</text>
<text x="160.1" y="244.8" font-size="6.6" fill="#141414" text-anchor="end" transform="rotate(-45 160.1 244.8)" textLength="17.26" lengthAdjust="spacingAndGlyphs" dominant-baseline="central">t(9;22)</text>
<text x="170.31" y="244.8" font-size="6.6" fill="#141414" text-anchor="end" transform="rotate(-45 170.31 244.8)" textLength="17.26" lengthAdjust="spacingAndGlyphs" dominant-baseline="central">t(8;21)</text>
<text x="180.52" y="244.8" font-size="6.6" fill="#141414" text-anchor="end" transform="rotate(-45 180.52 244.8)" textLength="13.87" lengthAdjust="spacingAndGlyphs" dominant-baseline="central">t(6;9)</text>
<text x="190.73" y="244.8" font-size="6.6" fill="#141414" text-anchor="end" transform="rotate(-45 190.73 244.8)" textLength="20.64" lengthAdjust="spacingAndGlyphs" dominant-baseline="central">t(15;17)</text>
<text x="200.94" y="244.8" font-size="6.6" fill="#141414" text-anchor="end" transform="rotate(-45 200.94 244.8)" textLength="15.66" lengthAdjust="spacingAndGlyphs" dominant-baseline="central">Other</text>
<text x="211.15" y="244.8" font-size="6.6" fill="#141414" text-anchor="end" transform="rotate(-45 211.15 244.8)" textLength="8.49" lengthAdjust="spacingAndGlyphs" dominant-baseline="central">NN</text>
<text x="221.36" y="244.8" font-size="6.6" fill="#141414" text-anchor="end" transform="rotate(-45 221.36 244.8)" textLength="18.7" lengthAdjust="spacingAndGlyphs" dominant-baseline="central">inv(16)</text>
<text x="231.57" y="244.8" font-size="6.6" fill="#141414" text-anchor="end" transform="rotate(-45 231.57 244.8)" textLength="18.4" lengthAdjust="spacingAndGlyphs" dominant-baseline="central">Failure</text>
<text x="241.78" y="244.8" font-size="6.6" fill="#141414" text-anchor="end" transform="rotate(-45 241.78 244.8)" textLength="24.43" lengthAdjust="spacingAndGlyphs" dominant-baseline="central">Complex</text>
<text x="251.99" y="244.8" font-size="6.6" fill="#141414" text-anchor="end" transform="rotate(-45 251.99 244.8)" textLength="17.06" lengthAdjust="spacingAndGlyphs" dominant-baseline="central">11q23</text>
<text x="262.2" y="244.8" font-size="6.6" fill="#141414" text-anchor="end" transform="rotate(-45 262.2 244.8)" textLength="7.12" lengthAdjust="spacingAndGlyphs" dominant-baseline="central">+8</text>
<text x="272.41" y="244.8" font-size="6.6" fill="#141414" text-anchor="end" transform="rotate(-45 272.41 244.8)" textLength="12.89" lengthAdjust="spacingAndGlyphs" dominant-baseline="central">-5/-7</text>
<text x="340.5" y="168.3" font-size="6.75" fill="#141414" text-anchor="middle" textLength="30.41" lengthAdjust="spacingAndGlyphs" style="stroke-width:0.2px">GSE17855</text>
<line x1="295" y1="173.8" x2="295" y2="237" stroke="#141414" stroke-width="1.25"/>
<line x1="291.6" y1="175.92" x2="295" y2="175.92" stroke="#141414" stroke-width="1.25"/>
<text x="289" y="178.17" font-size="7.14" fill="#141414" text-anchor="end" textLength="6.08" lengthAdjust="spacingAndGlyphs">10</text>
<line x1="291.6" y1="196.28" x2="295" y2="196.28" stroke="#141414" stroke-width="1.25"/>
<text x="289" y="198.53" font-size="7.14" fill="#141414" text-anchor="end" textLength="2.95" lengthAdjust="spacingAndGlyphs">8</text>
<line x1="291.6" y1="216.64" x2="295" y2="216.64" stroke="#141414" stroke-width="1.25"/>
<text x="289" y="218.89" font-size="7.14" fill="#141414" text-anchor="end" textLength="2.95" lengthAdjust="spacingAndGlyphs">6</text>
<line x1="291.6" y1="237" x2="295" y2="237" stroke="#141414" stroke-width="1.25"/>
<text x="289" y="239.25" font-size="7.14" fill="#141414" text-anchor="end" textLength="2.95" lengthAdjust="spacingAndGlyphs">4</text>
<line x1="295" y1="237" x2="387" y2="237" stroke="#141414" stroke-width="1.25"/>
<line x1="301.5" y1="237" x2="301.5" y2="239.6" stroke="#141414" stroke-width="1.25"/>
<line x1="314.48" y1="237" x2="314.48" y2="239.6" stroke="#141414" stroke-width="1.25"/>
<line x1="327.46" y1="237" x2="327.46" y2="239.6" stroke="#141414" stroke-width="1.25"/>
<line x1="340.44" y1="237" x2="340.44" y2="239.6" stroke="#141414" stroke-width="1.25"/>
<line x1="353.42" y1="237" x2="353.42" y2="239.6" stroke="#141414" stroke-width="1.25"/>
<line x1="366.4" y1="237" x2="366.4" y2="239.6" stroke="#141414" stroke-width="1.25"/>
<line x1="379.38" y1="237" x2="379.38" y2="239.6" stroke="#141414" stroke-width="1.25"/>
<circle cx="301.5" cy="229.47" r="1.16" fill="#41608f"/>
<circle cx="303.6" cy="229.08" r="1.16" fill="#41608f"/>
<circle cx="299.4" cy="228.85" r="1.16" fill="#41608f"/>
<circle cx="302.51" cy="228.53" r="1.16" fill="#41608f"/>
<circle cx="303.43" cy="228.46" r="1.16" fill="#41608f"/>
<circle cx="299.18" cy="228.07" r="1.16" fill="#41608f"/>
<circle cx="303.62" cy="227.98" r="1.16" fill="#41608f"/>
<circle cx="303.04" cy="227.81" r="1.16" fill="#41608f"/>
<circle cx="299.37" cy="227.69" r="1.16" fill="#41608f"/>
<circle cx="302.97" cy="227.16" r="1.16" fill="#41608f"/>
<circle cx="302.96" cy="227.04" r="1.16" fill="#41608f"/>
<circle cx="300" cy="226.72" r="1.16" fill="#41608f"/>
<circle cx="303.76" cy="226.53" r="1.16" fill="#41608f"/>
<circle cx="300.85" cy="226.3" r="1.16" fill="#41608f"/>
<circle cx="301.26" cy="226.19" r="1.16" fill="#41608f"/>
<circle cx="302.24" cy="225.97" r="1.16" fill="#41608f"/>
<circle cx="302.41" cy="225.85" r="1.16" fill="#41608f"/>
<circle cx="300.3" cy="224.31" r="1.16" fill="#41608f"/>
<circle cx="302.7" cy="223.84" r="1.16" fill="#41608f"/>
<circle cx="302.68" cy="223.45" r="1.16" fill="#41608f"/>
<circle cx="300.44" cy="222.72" r="1.16" fill="#41608f"/>
<circle cx="301.42" cy="222.54" r="1.16" fill="#41608f"/>
<circle cx="299.76" cy="222.43" r="1.16" fill="#41608f"/>
<circle cx="300.42" cy="222.12" r="1.16" fill="#41608f"/>
<circle cx="303" cy="220.97" r="1.16" fill="#41608f"/>
<circle cx="301.46" cy="220.63" r="1.16" fill="#41608f"/>
<circle cx="299.1" cy="220.44" r="1.16" fill="#41608f"/>
<circle cx="299.46" cy="219.17" r="1.16" fill="#41608f"/>
<circle cx="303.9" cy="219.14" r="1.16" fill="#41608f"/>
<circle cx="300.77" cy="219.14" r="1.16" fill="#41608f"/>
<circle cx="303.01" cy="218.82" r="1.16" fill="#41608f"/>
<circle cx="299.96" cy="218.71" r="1.16" fill="#41608f"/>
<circle cx="301.18" cy="218.52" r="1.16" fill="#41608f"/>
<circle cx="299.28" cy="218.09" r="1.16" fill="#41608f"/>
<circle cx="302.64" cy="217.69" r="1.16" fill="#41608f"/>
<circle cx="299.58" cy="217.65" r="1.16" fill="#41608f"/>
<circle cx="299.97" cy="217.56" r="1.16" fill="#41608f"/>
<circle cx="302.68" cy="216.57" r="1.16" fill="#41608f"/>
<circle cx="301.22" cy="216.5" r="1.16" fill="#41608f"/>
<circle cx="301.75" cy="216.46" r="1.16" fill="#41608f"/>
<circle cx="301.5" cy="214.08" r="1.16" fill="#41608f"/>
<circle cx="303.6" cy="213.93" r="1.16" fill="#41608f"/>
<circle cx="299.7" cy="212.9" r="1.16" fill="#41608f"/>
<circle cx="302.02" cy="212.35" r="1.16" fill="#41608f"/>
<circle cx="301.48" cy="211.85" r="1.16" fill="#41608f"/>
<circle cx="303.9" cy="211.12" r="1.16" fill="#41608f"/>
<circle cx="301.14" cy="211.05" r="1.16" fill="#41608f"/>
<circle cx="299.1" cy="210.79" r="1.16" fill="#41608f"/>
<circle cx="299.84" cy="209.71" r="1.16" fill="#41608f"/>
<circle cx="301.5" cy="208.36" r="1.16" fill="#41608f"/>
<circle cx="303.6" cy="208.16" r="1.16" fill="#41608f"/>
<circle cx="299.4" cy="207.65" r="1.16" fill="#41608f"/>
<circle cx="299.78" cy="206.69" r="1.16" fill="#41608f"/>
<circle cx="301.8" cy="206.03" r="1.16" fill="#41608f"/>
<circle cx="301.5" cy="203" r="1.16" fill="#41608f"/>
<circle cx="301.5" cy="196.8" r="1.16" fill="#41608f"/>
<circle cx="302.7" cy="195" r="1.16" fill="#41608f"/>
<circle cx="301.5" cy="189.8" r="1.16" fill="#41608f"/>
<line x1="298.2" y1="216.7" x2="304.8" y2="216.7" stroke="#111" stroke-width="1.15"/>
<rect x="313.33" y="209.85" width="2.3" height="2.3" fill="#a0283f"/>
<rect x="311.33" y="221.85" width="2.3" height="2.3" fill="#a0283f"/>
<rect x="313.33" y="223.35" width="2.3" height="2.3" fill="#a0283f"/>
<rect x="315.33" y="222.35" width="2.3" height="2.3" fill="#a0283f"/>
<rect x="312.33" y="225.65" width="2.3" height="2.3" fill="#a0283f"/>
<rect x="314.33" y="226.15" width="2.3" height="2.3" fill="#a0283f"/>
<rect x="310.73" y="224.65" width="2.3" height="2.3" fill="#a0283f"/>
<rect x="315.93" y="224.85" width="2.3" height="2.3" fill="#a0283f"/>
<line x1="311.18" y1="223.3" x2="317.78" y2="223.3" stroke="#111" stroke-width="1.15"/>
<line x1="314.48" y1="221.3" x2="314.48" y2="225.5" stroke="#a0283f" stroke-width="0.8"/>
<line x1="312.48" y1="221.3" x2="316.48" y2="221.3" stroke="#a0283f" stroke-width="0.8"/>
<line x1="312.48" y1="225.5" x2="316.48" y2="225.5" stroke="#a0283f" stroke-width="0.8"/>
<path d="M327.46 228.21L328.67 230.41L326.25 230.41Z" fill="#41608f"/>
<path d="M329.56 228.2L330.77 230.4L328.35 230.4Z" fill="#41608f"/>
<path d="M325.66 226.85L326.87 229.05L324.45 229.05Z" fill="#41608f"/>
<path d="M326.24 226.68L327.45 228.88L325.03 228.88Z" fill="#41608f"/>
<path d="M328.36 226.08L329.57 228.28L327.15 228.28Z" fill="#41608f"/>
<path d="M327.85 225.76L329.06 227.96L326.64 227.96Z" fill="#41608f"/>
<path d="M329.73 225.46L330.94 227.66L328.52 227.66Z" fill="#41608f"/>
<path d="M328.22 225.44L329.43 227.64L327.01 227.64Z" fill="#41608f"/>
<path d="M327.38 225.22L328.59 227.42L326.17 227.42Z" fill="#41608f"/>
<path d="M326.54 224.99L327.75 227.19L325.33 227.19Z" fill="#41608f"/>
<path d="M325.72 224.86L326.93 227.06L324.51 227.06Z" fill="#41608f"/>
<path d="M329.85 224.86L331.06 227.06L328.64 227.06Z" fill="#41608f"/>
<path d="M328.68 224.74L329.89 226.94L327.47 226.94Z" fill="#41608f"/>
<path d="M326.26 223.96L327.47 226.16L325.05 226.16Z" fill="#41608f"/>
<path d="M327.91 223.25L329.12 225.45L326.7 225.45Z" fill="#41608f"/>
<path d="M328.46 222.88L329.67 225.08L327.25 225.08Z" fill="#41608f"/>
<path d="M325.06 222.24L326.27 224.44L323.85 224.44Z" fill="#41608f"/>
<path d="M327.46 220.24L328.67 222.44L326.25 222.44Z" fill="#41608f"/>
<path d="M327.46 211.44L328.67 213.63L326.25 213.63Z" fill="#41608f"/>
<line x1="324.16" y1="225.2" x2="330.76" y2="225.2" stroke="#111" stroke-width="1.15"/>
<path d="M340.44 230.64L341.65 228.44L339.23 228.44Z" fill="#a0283f"/>
<path d="M342.54 230.57L343.75 228.37L341.33 228.37Z" fill="#a0283f"/>
<path d="M338.34 230.32L339.55 228.12L337.13 228.12Z" fill="#a0283f"/>
<path d="M338.59 230.29L339.8 228.09L337.38 228.09Z" fill="#a0283f"/>
<path d="M342.02 230.29L343.23 228.09L340.81 228.09Z" fill="#a0283f"/>
<path d="M342.34 229.61L343.55 227.41L341.13 227.41Z" fill="#a0283f"/>
<path d="M339.87 229.6L341.08 227.4L338.66 227.4Z" fill="#a0283f"/>
<path d="M339.32 229.42L340.53 227.22L338.11 227.22Z" fill="#a0283f"/>
<path d="M338.92 229.34L340.13 227.14L337.71 227.14Z" fill="#a0283f"/>
<path d="M338.34 228.89L339.55 226.69L337.13 226.69Z" fill="#a0283f"/>
<path d="M339.01 228.62L340.22 226.42L337.8 226.42Z" fill="#a0283f"/>
<path d="M338.95 228.53L340.16 226.33L337.74 226.33Z" fill="#a0283f"/>
<path d="M342.21 228.2L343.42 226L341 226Z" fill="#a0283f"/>
<path d="M338.89 228.17L340.1 225.97L337.68 225.97Z" fill="#a0283f"/>
<path d="M338.89 227.84L340.1 225.64L337.68 225.64Z" fill="#a0283f"/>
<path d="M342.58 227.64L343.79 225.44L341.37 225.44Z" fill="#a0283f"/>
<path d="M342.53 227.12L343.74 224.92L341.32 224.92Z" fill="#a0283f"/>
<path d="M338.45 227.04L339.66 224.84L337.24 224.84Z" fill="#a0283f"/>
<path d="M340.44 226.06L341.65 223.86L339.23 223.86Z" fill="#a0283f"/>
<path d="M339.55 225.31L340.76 223.11L338.34 223.11Z" fill="#a0283f"/>
<path d="M342.24 224.91L343.45 222.71L341.03 222.71Z" fill="#a0283f"/>
<path d="M342.88 224.82L344.09 222.62L341.67 222.62Z" fill="#a0283f"/>
<path d="M339.89 224.77L341.1 222.57L338.68 222.57Z" fill="#a0283f"/>
<path d="M341.08 224.09L342.29 221.89L339.87 221.89Z" fill="#a0283f"/>
<path d="M338.04 223.95L339.25 221.75L336.83 221.75Z" fill="#a0283f"/>
<path d="M341.4 223.58L342.61 221.38L340.19 221.38Z" fill="#a0283f"/>
<path d="M341.18 223.58L342.39 221.38L339.97 221.38Z" fill="#a0283f"/>
<path d="M338.22 223.15L339.43 220.95L337.01 220.95Z" fill="#a0283f"/>
<path d="M341.55 222.6L342.76 220.4L340.34 220.4Z" fill="#a0283f"/>
<path d="M342.01 222.23L343.22 220.03L340.8 220.03Z" fill="#a0283f"/>
<path d="M340.18 222.17L341.39 219.97L338.97 219.97Z" fill="#a0283f"/>
<path d="M339.67 222.11L340.88 219.91L338.46 219.91Z" fill="#a0283f"/>
<path d="M341.55 221.23L342.76 219.03L340.34 219.03Z" fill="#a0283f"/>
<path d="M342.89 221.13L344.1 218.93L341.68 218.93Z" fill="#a0283f"/>
<path d="M338.34 220.45L339.55 218.25L337.13 218.25Z" fill="#a0283f"/>
<path d="M342.65 220.06L343.86 217.86L341.44 217.86Z" fill="#a0283f"/>
<path d="M338.95 220.06L340.16 217.86L337.74 217.86Z" fill="#a0283f"/>
<path d="M341.74 220.02L342.95 217.82L340.53 217.82Z" fill="#a0283f"/>
<path d="M340.39 219.86L341.6 217.66L339.18 217.66Z" fill="#a0283f"/>
<path d="M342.88 219.59L344.09 217.39L341.67 217.39Z" fill="#a0283f"/>
<path d="M342.79 218.54L344 216.34L341.58 216.34Z" fill="#a0283f"/>
<path d="M340.44 215.49L341.65 213.29L339.23 213.29Z" fill="#a0283f"/>
<path d="M342.54 215.24L343.75 213.04L341.33 213.04Z" fill="#a0283f"/>
<path d="M338.34 214.83L339.55 212.63L337.13 212.63Z" fill="#a0283f"/>
<path d="M340.44 212.75L341.65 210.55L339.23 210.55Z" fill="#a0283f"/>
<path d="M342.54 212.73L343.75 210.53L341.33 210.53Z" fill="#a0283f"/>
<path d="M338.34 212.33L339.55 210.13L337.13 210.13Z" fill="#a0283f"/>
<path d="M340.36 211.07L341.57 208.87L339.15 208.87Z" fill="#a0283f"/>
<path d="M342.45 210.97L343.66 208.77L341.24 208.77Z" fill="#a0283f"/>
<path d="M340.44 207.76L341.65 205.56L339.23 205.56Z" fill="#a0283f"/>
<path d="M340.44 205.26L341.65 203.06L339.23 203.06Z" fill="#a0283f"/>
<path d="M340.44 202.76L341.65 200.56L339.23 200.56Z" fill="#a0283f"/>
<path d="M340.44 199.26L341.65 197.06L339.23 197.06Z" fill="#a0283f"/>
<path d="M340.44 196.26L341.65 194.06L339.23 194.06Z" fill="#a0283f"/>
<line x1="337.04" y1="220.6" x2="343.84" y2="220.6" stroke="#111" stroke-width="1.15"/>
<path d="M353.42 227.9L354.63 230.1L352.21 230.1Z" fill="#41608f"/>
<path d="M355.52 227.87L356.73 230.07L354.31 230.07Z" fill="#41608f"/>
<path d="M351.32 227.48L352.53 229.68L350.11 229.68Z" fill="#41608f"/>
<path d="M352.36 227.29L353.57 229.49L351.15 229.49Z" fill="#41608f"/>
<path d="M353.22 227.05L354.43 229.25L352.01 229.25Z" fill="#41608f"/>
<path d="M353.65 227.03L354.86 229.23L352.44 229.23Z" fill="#41608f"/>
<path d="M351.51 226.94L352.72 229.14L350.3 229.14Z" fill="#41608f"/>
<path d="M353.43 226.6L354.64 228.8L352.22 228.8Z" fill="#41608f"/>
<path d="M355.61 226.38L356.82 228.58L354.4 228.58Z" fill="#41608f"/>
<path d="M353.72 225.72L354.93 227.92L352.51 227.92Z" fill="#41608f"/>
<path d="M353.51 225.39L354.72 227.59L352.3 227.59Z" fill="#41608f"/>
<path d="M354.81 225.05L356.02 227.25L353.6 227.25Z" fill="#41608f"/>
<path d="M353.18 224.98L354.39 227.18L351.97 227.18Z" fill="#41608f"/>
<path d="M351.02 224.91L352.23 227.11L349.81 227.11Z" fill="#41608f"/>
<path d="M352.34 224.88L353.55 227.08L351.13 227.08Z" fill="#41608f"/>
<path d="M355.05 224.51L356.26 226.71L353.84 226.71Z" fill="#41608f"/>
<path d="M351.82 223.64L353.03 225.84L350.61 225.84Z" fill="#41608f"/>
<path d="M355.29 223.48L356.5 225.68L354.08 225.68Z" fill="#41608f"/>
<path d="M355.26 222.7L356.47 224.9L354.05 224.9Z" fill="#41608f"/>
<path d="M353.65 222.44L354.86 224.64L352.44 224.64Z" fill="#41608f"/>
<path d="M353.5 222.29L354.71 224.49L352.29 224.49Z" fill="#41608f"/>
<path d="M351.34 221.93L352.55 224.13L350.13 224.13Z" fill="#41608f"/>
<path d="M351.85 221.3L353.06 223.5L350.64 223.5Z" fill="#41608f"/>
<path d="M354.73 220.99L355.94 223.19L353.52 223.19Z" fill="#41608f"/>
<path d="M354.52 220.99L355.73 223.19L353.31 223.19Z" fill="#41608f"/>
<path d="M354.01 220.44L355.22 222.64L352.8 222.64Z" fill="#41608f"/>
<path d="M351.68 220.42L352.89 222.62L350.47 222.62Z" fill="#41608f"/>
<path d="M354.5 220.32L355.71 222.52L353.29 222.52Z" fill="#41608f"/>
<line x1="350.12" y1="225.2" x2="356.72" y2="225.2" stroke="#111" stroke-width="1.15"/>
<circle cx="366.4" cy="229.12" r="1.16" fill="#a0283f"/>
<circle cx="368.5" cy="228.9" r="1.16" fill="#a0283f"/>
<circle cx="364.3" cy="228.36" r="1.16" fill="#a0283f"/>
<circle cx="368.57" cy="228.05" r="1.16" fill="#a0283f"/>
<circle cx="365.84" cy="227.97" r="1.16" fill="#a0283f"/>
<circle cx="368.01" cy="227.09" r="1.16" fill="#a0283f"/>
<circle cx="365.14" cy="226.9" r="1.16" fill="#a0283f"/>
<circle cx="366.31" cy="226.79" r="1.16" fill="#a0283f"/>
<circle cx="365.27" cy="226.45" r="1.16" fill="#a0283f"/>
<circle cx="366.61" cy="226.18" r="1.16" fill="#a0283f"/>
<circle cx="364.27" cy="226.18" r="1.16" fill="#a0283f"/>
<circle cx="365.98" cy="226.16" r="1.16" fill="#a0283f"/>
<circle cx="365.48" cy="226.01" r="1.16" fill="#a0283f"/>
<circle cx="364.1" cy="225.54" r="1.16" fill="#a0283f"/>
<circle cx="368.2" cy="224.91" r="1.16" fill="#a0283f"/>
<circle cx="367.98" cy="224.33" r="1.16" fill="#a0283f"/>
<circle cx="368.46" cy="224.32" r="1.16" fill="#a0283f"/>
<circle cx="364.65" cy="224.19" r="1.16" fill="#a0283f"/>
<circle cx="367.06" cy="223.84" r="1.16" fill="#a0283f"/>
<circle cx="366.54" cy="223.79" r="1.16" fill="#a0283f"/>
<circle cx="366.03" cy="223.68" r="1.16" fill="#a0283f"/>
<circle cx="366.85" cy="223.33" r="1.16" fill="#a0283f"/>
<circle cx="367.21" cy="223.14" r="1.16" fill="#a0283f"/>
<circle cx="365.29" cy="222.47" r="1.16" fill="#a0283f"/>
<circle cx="365.71" cy="222.34" r="1.16" fill="#a0283f"/>
<circle cx="368.8" cy="221.73" r="1.16" fill="#a0283f"/>
<circle cx="366.44" cy="221.61" r="1.16" fill="#a0283f"/>
<circle cx="368.87" cy="221.57" r="1.16" fill="#a0283f"/>
<circle cx="368.55" cy="221.56" r="1.16" fill="#a0283f"/>
<circle cx="367.79" cy="221.39" r="1.16" fill="#a0283f"/>
<circle cx="364" cy="220.91" r="1.16" fill="#a0283f"/>
<circle cx="366.19" cy="220.53" r="1.16" fill="#a0283f"/>
<circle cx="368.44" cy="220.12" r="1.16" fill="#a0283f"/>
<circle cx="368.79" cy="220.02" r="1.16" fill="#a0283f"/>
<circle cx="368.32" cy="219.91" r="1.16" fill="#a0283f"/>
<circle cx="364.87" cy="219.62" r="1.16" fill="#a0283f"/>
<circle cx="365.95" cy="219.46" r="1.16" fill="#a0283f"/>
<circle cx="365.04" cy="219.13" r="1.16" fill="#a0283f"/>
<circle cx="366.16" cy="218.73" r="1.16" fill="#a0283f"/>
<circle cx="368.17" cy="218.53" r="1.16" fill="#a0283f"/>
<circle cx="366.37" cy="218.48" r="1.16" fill="#a0283f"/>
<circle cx="365.55" cy="218.09" r="1.16" fill="#a0283f"/>
<circle cx="366.4" cy="215" r="1.16" fill="#a0283f"/>
<circle cx="366.4" cy="211" r="1.16" fill="#a0283f"/>
<circle cx="367.9" cy="209.5" r="1.16" fill="#a0283f"/>
<circle cx="366.4" cy="206.5" r="1.16" fill="#a0283f"/>
<line x1="363" y1="224.2" x2="369.8" y2="224.2" stroke="#111" stroke-width="1.15"/>
<rect x="378.28" y="228.82" width="2.2" height="2.2" fill="#41608f"/>
<rect x="380.38" y="228.62" width="2.2" height="2.2" fill="#41608f"/>
<rect x="376.18" y="228.46" width="2.2" height="2.2" fill="#41608f"/>
<rect x="378.28" y="226.71" width="2.2" height="2.2" fill="#41608f"/>
<rect x="379.92" y="226.68" width="2.2" height="2.2" fill="#41608f"/>
<rect x="376.84" y="226.67" width="2.2" height="2.2" fill="#41608f"/>
<rect x="380.49" y="226.02" width="2.2" height="2.2" fill="#41608f"/>
<rect x="378.25" y="225.59" width="2.2" height="2.2" fill="#41608f"/>
<rect x="377.77" y="225.35" width="2.2" height="2.2" fill="#41608f"/>
<rect x="378.87" y="225.29" width="2.2" height="2.2" fill="#41608f"/>
<rect x="376.63" y="224.64" width="2.2" height="2.2" fill="#41608f"/>
<rect x="376.75" y="224.48" width="2.2" height="2.2" fill="#41608f"/>
<rect x="377.89" y="224.36" width="2.2" height="2.2" fill="#41608f"/>
<rect x="380.08" y="223.63" width="2.2" height="2.2" fill="#41608f"/>
<rect x="376.93" y="223.21" width="2.2" height="2.2" fill="#41608f"/>
<rect x="379.13" y="223.11" width="2.2" height="2.2" fill="#41608f"/>
<rect x="377.86" y="222.8" width="2.2" height="2.2" fill="#41608f"/>
<rect x="377.7" y="222.74" width="2.2" height="2.2" fill="#41608f"/>
<rect x="377.17" y="222.66" width="2.2" height="2.2" fill="#41608f"/>
<rect x="376.88" y="222.37" width="2.2" height="2.2" fill="#41608f"/>
<rect x="379.36" y="222.28" width="2.2" height="2.2" fill="#41608f"/>
<rect x="380.29" y="222.21" width="2.2" height="2.2" fill="#41608f"/>
<rect x="377.53" y="222.11" width="2.2" height="2.2" fill="#41608f"/>
<rect x="379.8" y="221.72" width="2.2" height="2.2" fill="#41608f"/>
<rect x="377.35" y="221.57" width="2.2" height="2.2" fill="#41608f"/>
<rect x="379.58" y="221.52" width="2.2" height="2.2" fill="#41608f"/>
<rect x="376.97" y="221.16" width="2.2" height="2.2" fill="#41608f"/>
<rect x="378.62" y="220.72" width="2.2" height="2.2" fill="#41608f"/>
<rect x="377.82" y="219.86" width="2.2" height="2.2" fill="#41608f"/>
<rect x="380.68" y="219.74" width="2.2" height="2.2" fill="#41608f"/>
<rect x="380.13" y="219.61" width="2.2" height="2.2" fill="#41608f"/>
<rect x="376.48" y="218.19" width="2.2" height="2.2" fill="#41608f"/>
<rect x="378.58" y="217.92" width="2.2" height="2.2" fill="#41608f"/>
<rect x="379.59" y="217.81" width="2.2" height="2.2" fill="#41608f"/>
<rect x="376.32" y="217.78" width="2.2" height="2.2" fill="#41608f"/>
<rect x="376.28" y="217.66" width="2.2" height="2.2" fill="#41608f"/>
<rect x="378.08" y="217.49" width="2.2" height="2.2" fill="#41608f"/>
<rect x="376.86" y="217.14" width="2.2" height="2.2" fill="#41608f"/>
<rect x="378.28" y="215.4" width="2.2" height="2.2" fill="#41608f"/>
<rect x="378.28" y="210.9" width="2.2" height="2.2" fill="#41608f"/>
<rect x="378.28" y="204.5" width="2.2" height="2.2" fill="#41608f"/>
<rect x="378.28" y="199.9" width="2.2" height="2.2" fill="#41608f"/>
<line x1="375.98" y1="224.4" x2="382.78" y2="224.4" stroke="#111" stroke-width="1.15"/>
<text x="306.6" y="184.9" font-size="5.4" fill="#333" text-anchor="middle" textLength="21" lengthAdjust="spacingAndGlyphs">p&lt;0.0001</text>
<text x="340.3" y="191.9" font-size="5.4" fill="#333" text-anchor="middle" textLength="15.5" lengthAdjust="spacingAndGlyphs">p=0.02</text>
<text x="303.3" y="244.8" font-size="6.6" fill="#141414" text-anchor="end" transform="rotate(-45 303.3 244.8)" textLength="17.26" lengthAdjust="spacingAndGlyphs" dominant-baseline="central">t(8;21)</text>
<text x="316.28" y="244.8" font-size="6.6" fill="#141414" text-anchor="end" transform="rotate(-45 316.28 244.8)" textLength="17.26" lengthAdjust="spacingAndGlyphs" dominant-baseline="central">t(7;12)</text>
<text x="329.26" y="244.8" font-size="6.6" fill="#141414" text-anchor="end" transform="rotate(-45 329.26 244.8)" textLength="20.64" lengthAdjust="spacingAndGlyphs" dominant-baseline="central">t(15;17)</text>
<text x="342.24" y="244.8" font-size="6.6" fill="#141414" text-anchor="end" transform="rotate(-45 342.24 244.8)" textLength="17.06" lengthAdjust="spacingAndGlyphs" dominant-baseline="central">11q23</text>
<text x="355.22" y="244.8" font-size="6.6" fill="#141414" text-anchor="end" transform="rotate(-45 355.22 244.8)" textLength="18.7" lengthAdjust="spacingAndGlyphs" dominant-baseline="central">inv(16)</text>
<text x="368.2" y="244.8" font-size="6.6" fill="#141414" text-anchor="end" transform="rotate(-45 368.2 244.8)" textLength="22.46" lengthAdjust="spacingAndGlyphs" dominant-baseline="central">CN-AML</text>
<text x="381.18" y="244.8" font-size="6.6" fill="#141414" text-anchor="end" transform="rotate(-45 381.18 244.8)" textLength="15.66" lengthAdjust="spacingAndGlyphs" dominant-baseline="central">Other</text>
<text x="462.5" y="168.3" font-size="6.75" fill="#141414" text-anchor="middle" textLength="16.83" lengthAdjust="spacingAndGlyphs" style="stroke-width:0.2px">TCGA</text>
<line x1="416.3" y1="173.8" x2="416.3" y2="236.3" stroke="#141414" stroke-width="1.25"/>
<line x1="412.9" y1="175.71" x2="416.3" y2="175.71" stroke="#141414" stroke-width="1.25"/>
<text x="410.3" y="177.96" font-size="7.14" fill="#141414" text-anchor="end" textLength="6.08" lengthAdjust="spacingAndGlyphs">30</text>
<line x1="412.9" y1="195.54" x2="416.3" y2="195.54" stroke="#141414" stroke-width="1.25"/>
<text x="410.3" y="197.79" font-size="7.14" fill="#141414" text-anchor="end" textLength="6.08" lengthAdjust="spacingAndGlyphs">20</text>
<line x1="412.9" y1="215.37" x2="416.3" y2="215.37" stroke="#141414" stroke-width="1.25"/>
<text x="410.3" y="217.62" font-size="7.14" fill="#141414" text-anchor="end" textLength="6.08" lengthAdjust="spacingAndGlyphs">10</text>
<line x1="412.9" y1="235.2" x2="416.3" y2="235.2" stroke="#141414" stroke-width="1.25"/>
<text x="410.3" y="237.45" font-size="7.14" fill="#141414" text-anchor="end" textLength="2.95" lengthAdjust="spacingAndGlyphs">0</text>
<line x1="416.3" y1="236.3" x2="507.6" y2="236.3" stroke="#141414" stroke-width="1.25"/>
<line x1="422.6" y1="236.3" x2="422.6" y2="238.9" stroke="#141414" stroke-width="1.25"/>
<line x1="434.02" y1="236.3" x2="434.02" y2="238.9" stroke="#141414" stroke-width="1.25"/>
<line x1="445.44" y1="236.3" x2="445.44" y2="238.9" stroke="#141414" stroke-width="1.25"/>
<line x1="456.86" y1="236.3" x2="456.86" y2="238.9" stroke="#141414" stroke-width="1.25"/>
<line x1="468.28" y1="236.3" x2="468.28" y2="238.9" stroke="#141414" stroke-width="1.25"/>
<line x1="479.7" y1="236.3" x2="479.7" y2="238.9" stroke="#141414" stroke-width="1.25"/>
<line x1="491.12" y1="236.3" x2="491.12" y2="238.9" stroke="#141414" stroke-width="1.25"/>
<line x1="502.54" y1="236.3" x2="502.54" y2="238.9" stroke="#141414" stroke-width="1.25"/>
<text x="396.3" y="204.3" font-size="6.85" fill="#141414" text-anchor="middle" transform="rotate(-90 396.3 204.3)" textLength="44.41" lengthAdjust="spacingAndGlyphs" dominant-baseline="central" style="stroke-width:0.16px">NCAM1_FPKM</text>
<circle cx="422.6" cy="206.1" r="1.26" fill="#41608f"/>
<circle cx="420.4" cy="211.6" r="1.26" fill="#41608f"/>
<circle cx="423.7" cy="210.1" r="1.26" fill="#41608f"/>
<circle cx="421.8" cy="213" r="1.26" fill="#41608f"/>
<circle cx="422.6" cy="218.9" r="1.26" fill="#41608f"/>
<circle cx="420.6" cy="228" r="1.26" fill="#41608f"/>
<circle cx="422.6" cy="234.96" r="1.26" fill="#41608f"/>
<circle cx="422.93" cy="234.35" r="1.26" fill="#41608f"/>
<circle cx="421.35" cy="234.26" r="1.26" fill="#41608f"/>
<circle cx="424.51" cy="234.19" r="1.26" fill="#41608f"/>
<circle cx="424.34" cy="234.14" r="1.26" fill="#41608f"/>
<circle cx="422.47" cy="234.05" r="1.26" fill="#41608f"/>
<circle cx="423.27" cy="233.94" r="1.26" fill="#41608f"/>
<circle cx="421.43" cy="233.09" r="1.26" fill="#41608f"/>
<circle cx="421.46" cy="232.98" r="1.26" fill="#41608f"/>
<circle cx="421.73" cy="232.68" r="1.26" fill="#41608f"/>
<circle cx="423.39" cy="232.39" r="1.26" fill="#41608f"/>
<circle cx="421.42" cy="232.35" r="1.26" fill="#41608f"/>
<circle cx="424.53" cy="232.21" r="1.26" fill="#41608f"/>
<circle cx="420.84" cy="231.36" r="1.26" fill="#41608f"/>
<circle cx="421.34" cy="231.33" r="1.26" fill="#41608f"/>
<circle cx="420.91" cy="230.87" r="1.26" fill="#41608f"/>
<circle cx="423.71" cy="230.54" r="1.26" fill="#41608f"/>
<circle cx="422.05" cy="230.48" r="1.26" fill="#41608f"/>
<circle cx="422.48" cy="230.33" r="1.26" fill="#41608f"/>
<circle cx="421.89" cy="230.16" r="1.26" fill="#41608f"/>
<circle cx="423.16" cy="230" r="1.26" fill="#41608f"/>
<circle cx="422.21" cy="229.66" r="1.26" fill="#41608f"/>
<line x1="419" y1="228.6" x2="426.2" y2="228.6" stroke="#111" stroke-width="1.15"/>
<rect x="434.62" y="222.6" width="2.4" height="2.4" fill="#a0283f"/>
<rect x="431.82" y="225" width="2.4" height="2.4" fill="#a0283f"/>
<rect x="432.82" y="233.88" width="2.4" height="2.4" fill="#a0283f"/>
<rect x="435.22" y="233.58" width="2.4" height="2.4" fill="#a0283f"/>
<rect x="430.72" y="232.99" width="2.4" height="2.4" fill="#a0283f"/>
<rect x="433.36" y="232.92" width="2.4" height="2.4" fill="#a0283f"/>
<rect x="430.81" y="232.54" width="2.4" height="2.4" fill="#a0283f"/>
<rect x="435.89" y="232.5" width="2.4" height="2.4" fill="#a0283f"/>
<rect x="435.62" y="232.28" width="2.4" height="2.4" fill="#a0283f"/>
<rect x="432.6" y="232.26" width="2.4" height="2.4" fill="#a0283f"/>
<rect x="433.9" y="232.02" width="2.4" height="2.4" fill="#a0283f"/>
<rect x="430.94" y="231.05" width="2.4" height="2.4" fill="#a0283f"/>
<rect x="430.98" y="231" width="2.4" height="2.4" fill="#a0283f"/>
<rect x="431.42" y="230.9" width="2.4" height="2.4" fill="#a0283f"/>
<rect x="434.09" y="230.88" width="2.4" height="2.4" fill="#a0283f"/>
<rect x="430.92" y="230.39" width="2.4" height="2.4" fill="#a0283f"/>
<rect x="435.93" y="230.28" width="2.4" height="2.4" fill="#a0283f"/>
<rect x="429.98" y="230.23" width="2.4" height="2.4" fill="#a0283f"/>
<rect x="432.82" y="228.67" width="2.4" height="2.4" fill="#a0283f"/>
<rect x="430.8" y="228.64" width="2.4" height="2.4" fill="#a0283f"/>
<rect x="430.11" y="228.58" width="2.4" height="2.4" fill="#a0283f"/>
<rect x="435.22" y="228.11" width="2.4" height="2.4" fill="#a0283f"/>
<rect x="434.6" y="228.01" width="2.4" height="2.4" fill="#a0283f"/>
<rect x="431.94" y="227.94" width="2.4" height="2.4" fill="#a0283f"/>
<rect x="432.63" y="227.84" width="2.4" height="2.4" fill="#a0283f"/>
<rect x="431.67" y="227.83" width="2.4" height="2.4" fill="#a0283f"/>
<rect x="433.73" y="227.81" width="2.4" height="2.4" fill="#a0283f"/>
<rect x="432.19" y="227.68" width="2.4" height="2.4" fill="#a0283f"/>
<line x1="430.22" y1="232.2" x2="437.82" y2="232.2" stroke="#111" stroke-width="1.15"/>
<circle cx="442.64" cy="234.9" r="1.05" fill="#1d2f4f"/>
<circle cx="444.04" cy="234.9" r="1.05" fill="#1d2f4f"/>
<circle cx="445.44" cy="234.9" r="1.05" fill="#1d2f4f"/>
<circle cx="446.84" cy="234.9" r="1.05" fill="#1d2f4f"/>
<circle cx="448.24" cy="234.9" r="1.05" fill="#1d2f4f"/>
<line x1="442.24" y1="234.9" x2="448.64" y2="234.9" stroke="#111" stroke-width="1.15"/>
<path d="M456.86 192.48L458.18 190.08L455.54 190.08Z" fill="#a0283f"/>
<path d="M456.86 204.68L458.18 202.28L455.54 202.28Z" fill="#a0283f"/>
<path d="M455.06 210.18L456.38 207.78L453.74 207.78Z" fill="#a0283f"/>
<path d="M458.66 208.88L459.98 206.48L457.34 206.48Z" fill="#a0283f"/>
<path d="M456.86 216.28L458.18 213.88L455.54 213.88Z" fill="#a0283f"/>
<path d="M455.06 221.18L456.38 218.78L453.74 218.78Z" fill="#a0283f"/>
<path d="M458.36 219.38L459.68 216.98L457.04 216.98Z" fill="#a0283f"/>
<path d="M456.86 223.88L458.18 221.48L455.54 221.48Z" fill="#a0283f"/>
<path d="M454.06 227.58L455.38 225.18L452.74 225.18Z" fill="#a0283f"/>
<path d="M459.66 226.68L460.98 224.28L458.34 224.28Z" fill="#a0283f"/>
<path d="M456.86 236.5L458.18 234.1L455.54 234.1Z" fill="#a0283f"/>
<path d="M459.26 236.47L460.58 234.07L457.94 234.07Z" fill="#a0283f"/>
<path d="M454.46 236.38L455.78 233.98L453.14 233.98Z" fill="#a0283f"/>
<path d="M457.4 236.17L458.72 233.77L456.08 233.77Z" fill="#a0283f"/>
<path d="M454.85 236.16L456.17 233.76L453.53 233.76Z" fill="#a0283f"/>
<path d="M459.93 235.99L461.25 233.59L458.61 233.59Z" fill="#a0283f"/>
<path d="M459.66 235.93L460.98 233.53L458.34 233.53Z" fill="#a0283f"/>
<path d="M456.64 235.85L457.96 233.45L455.32 233.45Z" fill="#a0283f"/>
<path d="M457.94 235.37L459.26 232.97L456.62 232.97Z" fill="#a0283f"/>
<path d="M454.98 235.37L456.3 232.97L453.66 232.97Z" fill="#a0283f"/>
<path d="M455.02 234.8L456.34 232.4L453.7 232.4Z" fill="#a0283f"/>
<path d="M455.46 234.66L456.78 232.26L454.14 232.26Z" fill="#a0283f"/>
<path d="M458.13 234.66L459.45 232.26L456.81 232.26Z" fill="#a0283f"/>
<path d="M454.96 234.56L456.28 232.16L453.64 232.16Z" fill="#a0283f"/>
<path d="M459.97 234.21L461.29 231.81L458.65 231.81Z" fill="#a0283f"/>
<path d="M454.02 234.18L455.34 231.78L452.7 231.78Z" fill="#a0283f"/>
<path d="M454.84 232.97L456.16 230.57L453.52 230.57Z" fill="#a0283f"/>
<path d="M454.15 232.7L455.47 230.3L452.83 230.3Z" fill="#a0283f"/>
<path d="M457.16 232.52L458.48 230.12L455.84 230.12Z" fill="#a0283f"/>
<path d="M458.64 232.51L459.96 230.11L457.32 230.11Z" fill="#a0283f"/>
<path d="M455.98 231.84L457.3 229.44L454.66 229.44Z" fill="#a0283f"/>
<path d="M456.67 231.64L457.99 229.24L455.35 229.24Z" fill="#a0283f"/>
<path d="M455.71 231.18L457.03 228.78L454.39 228.78Z" fill="#a0283f"/>
<path d="M459.86 230.57L461.18 228.17L458.54 228.17Z" fill="#a0283f"/>
<path d="M453.86 229.79L455.18 227.39L452.54 227.39Z" fill="#a0283f"/>
<path d="M457.76 229.61L459.08 227.21L456.44 227.21Z" fill="#a0283f"/>
<path d="M457.77 229.59L459.09 227.19L456.45 227.19Z" fill="#a0283f"/>
<path d="M456.23 229.31L457.55 226.91L454.91 226.91Z" fill="#a0283f"/>
<path d="M454.93 229.18L456.25 226.78L453.61 226.78Z" fill="#a0283f"/>
<path d="M456.4 229.15L457.72 226.75L455.08 226.75Z" fill="#a0283f"/>
<line x1="453.06" y1="232.2" x2="460.66" y2="232.2" stroke="#111" stroke-width="1.15"/>
<circle cx="465.48" cy="234.5" r="1.05" fill="#1d2f4f"/>
<circle cx="466.88" cy="234.5" r="1.05" fill="#1d2f4f"/>
<circle cx="468.28" cy="234.5" r="1.05" fill="#1d2f4f"/>
<circle cx="469.68" cy="234.5" r="1.05" fill="#1d2f4f"/>
<circle cx="471.08" cy="234.5" r="1.05" fill="#1d2f4f"/>
<line x1="465.08" y1="234.5" x2="471.48" y2="234.5" stroke="#111" stroke-width="1.15"/>
<circle cx="479.7" cy="185.1" r="1.26" fill="#a0283f"/>
<circle cx="479.7" cy="206.4" r="1.26" fill="#a0283f"/>
<circle cx="477.9" cy="233.1" r="1.26" fill="#a0283f"/>
<circle cx="481.5" cy="233.1" r="1.26" fill="#a0283f"/>
<line x1="475.9" y1="218.9" x2="483.5" y2="218.9" stroke="#111" stroke-width="1.15"/>
<line x1="479.7" y1="212.5" x2="479.7" y2="224.6" stroke="#a0283f" stroke-width="0.8"/>
<line x1="477.7" y1="212.5" x2="481.7" y2="212.5" stroke="#a0283f" stroke-width="0.8"/>
<line x1="477.7" y1="224.6" x2="481.7" y2="224.6" stroke="#a0283f" stroke-width="0.8"/>
<circle cx="491.12" cy="212.5" r="1.26" fill="#41608f"/>
<circle cx="491.12" cy="224.4" r="1.26" fill="#41608f"/>
<line x1="487.32" y1="218.9" x2="494.92" y2="218.9" stroke="#111" stroke-width="1.15"/>
<line x1="491.12" y1="212.5" x2="491.12" y2="224.4" stroke="#41608f" stroke-width="0.8"/>
<line x1="489.12" y1="212.5" x2="493.12" y2="212.5" stroke="#41608f" stroke-width="0.8"/>
<line x1="489.12" y1="224.4" x2="493.12" y2="224.4" stroke="#41608f" stroke-width="0.8"/>
<path d="M502.84 179.12L504.16 181.52L501.52 181.52Z" fill="#a0283f"/>
<path d="M501.04 231.82L502.36 234.22L499.72 234.22Z" fill="#a0283f"/>
<path d="M504.04 232.12L505.36 234.52L502.72 234.52Z" fill="#a0283f"/>
<path d="M502.54 233.22L503.86 235.62L501.22 235.62Z" fill="#a0283f"/>
<path d="M499.94 233.42L501.26 235.82L498.62 235.82Z" fill="#a0283f"/>
<path d="M505.14 233.22L506.46 235.62L503.82 235.62Z" fill="#a0283f"/>
<path d="M502.54 230.62L503.86 233.02L501.22 233.02Z" fill="#a0283f"/>
<line x1="498.74" y1="228.6" x2="506.34" y2="228.6" stroke="#111" stroke-width="1.15"/>
<line x1="502.54" y1="222.5" x2="502.54" y2="234.5" stroke="#a0283f" stroke-width="0.8"/>
<line x1="500.54" y1="222.5" x2="504.54" y2="222.5" stroke="#a0283f" stroke-width="0.8"/>
<line x1="500.54" y1="234.5" x2="504.54" y2="234.5" stroke="#a0283f" stroke-width="0.8"/>
<text x="424.4" y="244.1" font-size="6.6" fill="#141414" text-anchor="end" transform="rotate(-45 424.4 244.1)" textLength="24.43" lengthAdjust="spacingAndGlyphs" dominant-baseline="central">Complex</text>
<text x="435.82" y="244.1" font-size="6.6" fill="#141414" text-anchor="end" transform="rotate(-45 435.82 244.1)" textLength="12.89" lengthAdjust="spacingAndGlyphs" dominant-baseline="central">-5/-7</text>
<text x="447.24" y="244.1" font-size="6.6" fill="#141414" text-anchor="end" transform="rotate(-45 447.24 244.1)" textLength="18.7" lengthAdjust="spacingAndGlyphs" dominant-baseline="central">inv(16)</text>
<text x="458.66" y="244.1" font-size="6.6" fill="#141414" text-anchor="end" transform="rotate(-45 458.66 244.1)" textLength="20.17" lengthAdjust="spacingAndGlyphs" dominant-baseline="central">Normal</text>
<text x="470.08" y="244.1" font-size="6.6" fill="#141414" text-anchor="end" transform="rotate(-45 470.08 244.1)" textLength="20.64" lengthAdjust="spacingAndGlyphs" dominant-baseline="central">t(15;17)</text>
<text x="481.5" y="244.1" font-size="6.6" fill="#141414" text-anchor="end" transform="rotate(-45 481.5 244.1)" textLength="17.26" lengthAdjust="spacingAndGlyphs" dominant-baseline="central">t(8;21)</text>
<text x="492.92" y="244.1" font-size="6.6" fill="#141414" text-anchor="end" transform="rotate(-45 492.92 244.1)" textLength="17.06" lengthAdjust="spacingAndGlyphs" dominant-baseline="central">11q23</text>
<text x="504.34" y="244.1" font-size="6.6" fill="#141414" text-anchor="end" transform="rotate(-45 504.34 244.1)" textLength="7.12" lengthAdjust="spacingAndGlyphs" dominant-baseline="central">+8</text>
<text x="0" y="0" font-size="11.2" fill="#111" style="stroke:none" transform="translate(6.75 289.9) scale(0.86 1)">E</text>
<text x="85" y="301" font-size="6.75" fill="#141414" text-anchor="middle" textLength="30.41" lengthAdjust="spacingAndGlyphs" style="stroke-width:0.2px">GSE17855</text>
<line x1="23.2" y1="307" x2="23.2" y2="369.8" stroke="#141414" stroke-width="1.25"/>
<line x1="19.8" y1="308.6" x2="23.2" y2="308.6" stroke="#141414" stroke-width="1.25"/>
<text x="17.2" y="310.85" font-size="7.14" fill="#141414" text-anchor="end" textLength="6.08" lengthAdjust="spacingAndGlyphs">10</text>
<line x1="19.8" y1="329" x2="23.2" y2="329" stroke="#141414" stroke-width="1.25"/>
<text x="17.2" y="331.25" font-size="7.14" fill="#141414" text-anchor="end" textLength="2.95" lengthAdjust="spacingAndGlyphs">8</text>
<line x1="19.8" y1="349.4" x2="23.2" y2="349.4" stroke="#141414" stroke-width="1.25"/>
<text x="17.2" y="351.65" font-size="7.14" fill="#141414" text-anchor="end" textLength="2.95" lengthAdjust="spacingAndGlyphs">6</text>
<line x1="19.8" y1="369.8" x2="23.2" y2="369.8" stroke="#141414" stroke-width="1.25"/>
<text x="17.2" y="372.05" font-size="7.14" fill="#141414" text-anchor="end" textLength="2.95" lengthAdjust="spacingAndGlyphs">4</text>
<line x1="23.2" y1="369.8" x2="146.3" y2="369.8" stroke="#141414" stroke-width="1.25"/>
<line x1="32.5" y1="369.8" x2="32.5" y2="372.4" stroke="#141414" stroke-width="1.25"/>
<line x1="49.95" y1="369.8" x2="49.95" y2="372.4" stroke="#141414" stroke-width="1.25"/>
<line x1="67.4" y1="369.8" x2="67.4" y2="372.4" stroke="#141414" stroke-width="1.25"/>
<line x1="84.85" y1="369.8" x2="84.85" y2="372.4" stroke="#141414" stroke-width="1.25"/>
<line x1="102.3" y1="369.8" x2="102.3" y2="372.4" stroke="#141414" stroke-width="1.25"/>
<line x1="119.75" y1="369.8" x2="119.75" y2="372.4" stroke="#141414" stroke-width="1.25"/>
<line x1="137.2" y1="369.8" x2="137.2" y2="372.4" stroke="#141414" stroke-width="1.25"/>
<circle cx="32.5" cy="361.97" r="1.21" fill="#41608f"/>
<circle cx="34.9" cy="361.92" r="1.21" fill="#41608f"/>
<circle cx="30.4" cy="361.69" r="1.21" fill="#41608f"/>
<circle cx="28.65" cy="361.68" r="1.21" fill="#41608f"/>
<circle cx="35.51" cy="361.58" r="1.21" fill="#41608f"/>
<circle cx="34.32" cy="361.08" r="1.21" fill="#41608f"/>
<circle cx="28.55" cy="360.87" r="1.21" fill="#41608f"/>
<circle cx="32.91" cy="360.85" r="1.21" fill="#41608f"/>
<circle cx="30.36" cy="360.3" r="1.21" fill="#41608f"/>
<circle cx="35.63" cy="360.18" r="1.21" fill="#41608f"/>
<circle cx="35.4" cy="360.15" r="1.21" fill="#41608f"/>
<circle cx="30.87" cy="359.79" r="1.21" fill="#41608f"/>
<circle cx="33.31" cy="359.64" r="1.21" fill="#41608f"/>
<circle cx="32.46" cy="359.56" r="1.21" fill="#41608f"/>
<circle cx="30.71" cy="359.09" r="1.21" fill="#41608f"/>
<circle cx="31.95" cy="358.83" r="1.21" fill="#41608f"/>
<circle cx="28.6" cy="358.75" r="1.21" fill="#41608f"/>
<circle cx="36.4" cy="358.13" r="1.21" fill="#41608f"/>
<circle cx="31.64" cy="357.89" r="1.21" fill="#41608f"/>
<circle cx="32.23" cy="357.82" r="1.21" fill="#41608f"/>
<circle cx="36.21" cy="357.75" r="1.21" fill="#41608f"/>
<circle cx="34.39" cy="357.55" r="1.21" fill="#41608f"/>
<circle cx="28.71" cy="357.49" r="1.21" fill="#41608f"/>
<circle cx="31.29" cy="357.31" r="1.21" fill="#41608f"/>
<circle cx="36.34" cy="356.62" r="1.21" fill="#41608f"/>
<circle cx="34.64" cy="356.52" r="1.21" fill="#41608f"/>
<circle cx="33.37" cy="356.47" r="1.21" fill="#41608f"/>
<circle cx="33.7" cy="356.43" r="1.21" fill="#41608f"/>
<circle cx="34.01" cy="356.39" r="1.21" fill="#41608f"/>
<circle cx="29.75" cy="356.03" r="1.21" fill="#41608f"/>
<circle cx="31.73" cy="355.97" r="1.21" fill="#41608f"/>
<circle cx="30.68" cy="355.96" r="1.21" fill="#41608f"/>
<circle cx="29.97" cy="355.79" r="1.21" fill="#41608f"/>
<circle cx="34.05" cy="355.79" r="1.21" fill="#41608f"/>
<circle cx="28.69" cy="355.65" r="1.21" fill="#41608f"/>
<circle cx="29.87" cy="355.21" r="1.21" fill="#41608f"/>
<circle cx="34.22" cy="355.14" r="1.21" fill="#41608f"/>
<circle cx="35.73" cy="355.09" r="1.21" fill="#41608f"/>
<circle cx="32.5" cy="353" r="1.21" fill="#41608f"/>
<circle cx="32.5" cy="345" r="1.21" fill="#41608f"/>
<line x1="28.3" y1="358.3" x2="36.7" y2="358.3" stroke="#111" stroke-width="1.15"/>
<rect x="49.9" y="325.75" width="2.5" height="2.5" fill="#a0283f"/>
<rect x="46.9" y="328.15" width="2.5" height="2.5" fill="#a0283f"/>
<rect x="48.2" y="339.75" width="2.5" height="2.5" fill="#a0283f"/>
<rect x="51.2" y="344.75" width="2.5" height="2.5" fill="#a0283f"/>
<rect x="45.7" y="345.25" width="2.5" height="2.5" fill="#a0283f"/>
<rect x="49.2" y="347.75" width="2.5" height="2.5" fill="#a0283f"/>
<rect x="46.7" y="349.75" width="2.5" height="2.5" fill="#a0283f"/>
<rect x="51.7" y="351.25" width="2.5" height="2.5" fill="#a0283f"/>
<rect x="45.2" y="352.75" width="2.5" height="2.5" fill="#a0283f"/>
<rect x="49.7" y="353.75" width="2.5" height="2.5" fill="#a0283f"/>
<rect x="47.7" y="355.25" width="2.5" height="2.5" fill="#a0283f"/>
<rect x="52.2" y="355.75" width="2.5" height="2.5" fill="#a0283f"/>
<rect x="46.2" y="357.25" width="2.5" height="2.5" fill="#a0283f"/>
<rect x="50.5" y="358.25" width="2.5" height="2.5" fill="#a0283f"/>
<rect x="47.9" y="359.25" width="2.5" height="2.5" fill="#a0283f"/>
<rect x="49.2" y="360.75" width="2.5" height="2.5" fill="#a0283f"/>
<rect x="51.5" y="360.25" width="2.5" height="2.5" fill="#a0283f"/>
<rect x="45.5" y="359.55" width="2.5" height="2.5" fill="#a0283f"/>
<line x1="45.95" y1="352.3" x2="53.95" y2="352.3" stroke="#111" stroke-width="1.15"/>
<line x1="49.95" y1="350" x2="49.95" y2="354.6" stroke="#a0283f" stroke-width="0.8"/>
<line x1="47.75" y1="350" x2="52.15" y2="350" stroke="#a0283f" stroke-width="0.8"/>
<line x1="47.75" y1="354.6" x2="52.15" y2="354.6" stroke="#a0283f" stroke-width="0.8"/>
<path d="M67.4 326.76L68.78 329.26L66.03 329.26Z" fill="#41608f"/>
<path d="M66.4 331.56L67.78 334.06L65.03 334.06Z" fill="#41608f"/>
<path d="M66.9 335.96L68.28 338.46L65.53 338.46Z" fill="#41608f"/>
<path d="M69.6 339.26L70.98 341.76L68.23 341.76Z" fill="#41608f"/>
<path d="M70.6 338.86L71.98 341.36L69.23 341.36Z" fill="#41608f"/>
<path d="M64.9 340.06L66.28 342.56L63.53 342.56Z" fill="#41608f"/>
<path d="M68.4 343.06L69.78 345.56L67.03 345.56Z" fill="#41608f"/>
<path d="M65.9 346.06L67.28 348.56L64.53 348.56Z" fill="#41608f"/>
<path d="M69.9 347.56L71.28 350.06L68.53 350.06Z" fill="#41608f"/>
<path d="M64.4 349.06L65.78 351.56L63.03 351.56Z" fill="#41608f"/>
<path d="M67.4 350.56L68.78 353.06L66.03 353.06Z" fill="#41608f"/>
<path d="M70.9 351.56L72.28 354.06L69.53 354.06Z" fill="#41608f"/>
<path d="M65.4 352.56L66.78 355.06L64.03 355.06Z" fill="#41608f"/>
<path d="M67.4 360.62L68.67 362.92L66.14 362.92Z" fill="#41608f"/>
<path d="M69.8 360.47L71.07 362.77L68.54 362.77Z" fill="#41608f"/>
<path d="M65.3 360.33L66.57 362.63L64.04 362.63Z" fill="#41608f"/>
<path d="M65.41 359.97L66.67 362.27L64.14 362.27Z" fill="#41608f"/>
<path d="M64.3 359.87L65.57 362.17L63.04 362.17Z" fill="#41608f"/>
<path d="M68.68 359.2L69.94 361.5L67.41 361.5Z" fill="#41608f"/>
<path d="M65.42 358.85L66.69 361.15L64.16 361.15Z" fill="#41608f"/>
<path d="M68.36 358.79L69.62 361.09L67.09 361.09Z" fill="#41608f"/>
<path d="M70.7 358.25L71.97 360.55L69.44 360.55Z" fill="#41608f"/>
<path d="M64.73 357.94L66 360.24L63.47 360.24Z" fill="#41608f"/>
<path d="M71.1 357.75L72.37 360.05L69.84 360.05Z" fill="#41608f"/>
<path d="M68.75 357.52L70.01 359.82L67.48 359.82Z" fill="#41608f"/>
<path d="M65.82 357.5L67.08 359.8L64.55 359.8Z" fill="#41608f"/>
<path d="M64.04 357.45L65.31 359.75L62.78 359.75Z" fill="#41608f"/>
<path d="M70 357.29L71.26 359.59L68.73 359.59Z" fill="#41608f"/>
<path d="M70.46 357.09L71.73 359.39L69.2 359.39Z" fill="#41608f"/>
<path d="M66.15 356.59L67.42 358.89L64.89 358.89Z" fill="#41608f"/>
<path d="M68 355.27L69.27 357.57L66.73 357.57Z" fill="#41608f"/>
<path d="M64.4 355.24L65.67 357.54L63.14 357.54Z" fill="#41608f"/>
<path d="M70.1 354.7L71.37 357L68.84 357Z" fill="#41608f"/>
<path d="M64.37 354.69L65.63 356.99L63.1 356.99Z" fill="#41608f"/>
<path d="M71.08 354.43L72.34 356.73L69.81 356.73Z" fill="#41608f"/>
<path d="M66.5 353.65L67.77 355.95L65.23 355.95Z" fill="#41608f"/>
<path d="M70.44 353.64L71.7 355.94L69.17 355.94Z" fill="#41608f"/>
<path d="M67.11 353.42L68.38 355.72L65.85 355.72Z" fill="#41608f"/>
<path d="M64.4 353.41L65.67 355.71L63.14 355.71Z" fill="#41608f"/>
<path d="M69.34 353.26L70.6 355.56L68.07 355.56Z" fill="#41608f"/>
<path d="M71.02 352.54L72.29 354.84L69.76 354.84Z" fill="#41608f"/>
<path d="M65.87 352.52L67.14 354.82L64.61 354.82Z" fill="#41608f"/>
<path d="M66.4 352.05L67.66 354.35L65.13 354.35Z" fill="#41608f"/>
<line x1="63.2" y1="354.7" x2="71.6" y2="354.7" stroke="#111" stroke-width="1.15"/>
<line x1="67.4" y1="352.8" x2="67.4" y2="356.6" stroke="#41608f" stroke-width="0.8"/>
<line x1="65.2" y1="352.8" x2="69.6" y2="352.8" stroke="#41608f" stroke-width="0.8"/>
<line x1="65.2" y1="356.6" x2="69.6" y2="356.6" stroke="#41608f" stroke-width="0.8"/>
<path d="M84.85 351.74L86.22 349.24L83.47 349.24Z" fill="#a0283f"/>
<path d="M81.85 358.64L83.22 356.14L80.47 356.14Z" fill="#a0283f"/>
<path d="M83.35 358.64L84.72 356.14L81.97 356.14Z" fill="#a0283f"/>
<path d="M84.85 358.64L86.22 356.14L83.47 356.14Z" fill="#a0283f"/>
<path d="M86.35 358.64L87.72 356.14L84.97 356.14Z" fill="#a0283f"/>
<path d="M87.85 358.64L89.22 356.14L86.47 356.14Z" fill="#a0283f"/>
<line x1="80.85" y1="356.3" x2="88.85" y2="356.3" stroke="#111" stroke-width="1.15"/>
<circle cx="102.3" cy="360.95" r="1.21" fill="#41608f"/>
<circle cx="104.7" cy="360.91" r="1.21" fill="#41608f"/>
<circle cx="100.2" cy="360.2" r="1.21" fill="#41608f"/>
<circle cx="105.35" cy="359.9" r="1.21" fill="#41608f"/>
<circle cx="99.97" cy="359.84" r="1.21" fill="#41608f"/>
<circle cx="99.32" cy="359.84" r="1.21" fill="#41608f"/>
<circle cx="99.31" cy="359.42" r="1.21" fill="#41608f"/>
<circle cx="102.3" cy="358.59" r="1.21" fill="#41608f"/>
<circle cx="104.26" cy="358.24" r="1.21" fill="#41608f"/>
<circle cx="105.06" cy="358.12" r="1.21" fill="#41608f"/>
<circle cx="106.08" cy="358" r="1.21" fill="#41608f"/>
<circle cx="103.67" cy="357.95" r="1.21" fill="#41608f"/>
<circle cx="100.5" cy="357.34" r="1.21" fill="#41608f"/>
<circle cx="103.38" cy="356.58" r="1.21" fill="#41608f"/>
<circle cx="103.74" cy="356.57" r="1.21" fill="#41608f"/>
<circle cx="98.7" cy="356.16" r="1.21" fill="#41608f"/>
<circle cx="102.17" cy="356.15" r="1.21" fill="#41608f"/>
<circle cx="102.66" cy="356.04" r="1.21" fill="#41608f"/>
<circle cx="100.8" cy="354.5" r="1.21" fill="#41608f"/>
<circle cx="102.3" cy="344.6" r="1.21" fill="#41608f"/>
<line x1="98.3" y1="357.5" x2="106.3" y2="357.5" stroke="#111" stroke-width="1.15"/>
<circle cx="119.75" cy="362.38" r="1.21" fill="#a0283f"/>
<circle cx="122.15" cy="362.29" r="1.21" fill="#a0283f"/>
<circle cx="117.65" cy="361.42" r="1.21" fill="#a0283f"/>
<circle cx="122.39" cy="361.38" r="1.21" fill="#a0283f"/>
<circle cx="120.57" cy="361.07" r="1.21" fill="#a0283f"/>
<circle cx="121.57" cy="360.64" r="1.21" fill="#a0283f"/>
<circle cx="115.72" cy="360.62" r="1.21" fill="#a0283f"/>
<circle cx="120.95" cy="360.3" r="1.21" fill="#a0283f"/>
<circle cx="121.7" cy="360.24" r="1.21" fill="#a0283f"/>
<circle cx="119.59" cy="360.06" r="1.21" fill="#a0283f"/>
<circle cx="119.62" cy="360.04" r="1.21" fill="#a0283f"/>
<circle cx="117.67" cy="359.59" r="1.21" fill="#a0283f"/>
<circle cx="123.65" cy="359.41" r="1.21" fill="#a0283f"/>
<circle cx="118.99" cy="359.4" r="1.21" fill="#a0283f"/>
<circle cx="120.44" cy="358.7" r="1.21" fill="#a0283f"/>
<circle cx="122.75" cy="358.69" r="1.21" fill="#a0283f"/>
<circle cx="115.85" cy="358.14" r="1.21" fill="#a0283f"/>
<circle cx="120.35" cy="357.71" r="1.21" fill="#a0283f"/>
<circle cx="119.36" cy="357.5" r="1.21" fill="#a0283f"/>
<circle cx="118.23" cy="357.48" r="1.21" fill="#a0283f"/>
<circle cx="121.88" cy="357.29" r="1.21" fill="#a0283f"/>
<circle cx="118.29" cy="356.89" r="1.21" fill="#a0283f"/>
<circle cx="116.12" cy="356.76" r="1.21" fill="#a0283f"/>
<circle cx="120.2" cy="356.72" r="1.21" fill="#a0283f"/>
<circle cx="119.9" cy="356.54" r="1.21" fill="#a0283f"/>
<circle cx="122.44" cy="356.15" r="1.21" fill="#a0283f"/>
<circle cx="119.25" cy="356.05" r="1.21" fill="#a0283f"/>
<circle cx="121.26" cy="355.97" r="1.21" fill="#a0283f"/>
<circle cx="118.63" cy="355.91" r="1.21" fill="#a0283f"/>
<circle cx="119.68" cy="355.6" r="1.21" fill="#a0283f"/>
<circle cx="116.3" cy="355.5" r="1.21" fill="#a0283f"/>
<circle cx="119.44" cy="355.4" r="1.21" fill="#a0283f"/>
<circle cx="117.35" cy="354.9" r="1.21" fill="#a0283f"/>
<circle cx="118.97" cy="354.86" r="1.21" fill="#a0283f"/>
<circle cx="117.83" cy="354.8" r="1.21" fill="#a0283f"/>
<circle cx="121.46" cy="354.59" r="1.21" fill="#a0283f"/>
<circle cx="119.75" cy="343.8" r="1.21" fill="#a0283f"/>
<line x1="115.55" y1="358.3" x2="123.95" y2="358.3" stroke="#111" stroke-width="1.15"/>
<rect x="133.75" y="353.45" width="2.5" height="2.5" fill="#41608f"/>
<rect x="137.45" y="353.25" width="2.5" height="2.5" fill="#41608f"/>
<rect x="132.75" y="355.75" width="2.5" height="2.5" fill="#41608f"/>
<rect x="134.75" y="356.25" width="2.5" height="2.5" fill="#41608f"/>
<rect x="136.75" y="355.95" width="2.5" height="2.5" fill="#41608f"/>
<rect x="138.75" y="356.15" width="2.5" height="2.5" fill="#41608f"/>
<rect x="135.95" y="357.25" width="2.5" height="2.5" fill="#41608f"/>
<rect x="139.55" y="354.55" width="2.5" height="2.5" fill="#41608f"/>
<line x1="133.2" y1="357" x2="141.2" y2="357" stroke="#111" stroke-width="1.15"/>
<text x="49.5" y="322.5" font-size="5.4" fill="#333" text-anchor="middle" textLength="18.5" lengthAdjust="spacingAndGlyphs">p=0.001</text>
<text x="34.3" y="377.6" font-size="6.6" fill="#141414" text-anchor="end" transform="rotate(-45 34.3 377.6)" textLength="24.08" lengthAdjust="spacingAndGlyphs" dominant-baseline="central">FLT3-ITD</text>
<text x="51.75" y="377.6" font-size="6.6" fill="#141414" text-anchor="end" transform="rotate(-45 51.75 377.6)" textLength="22.52" lengthAdjust="spacingAndGlyphs" dominant-baseline="central">cKITmut</text>
<text x="69.2" y="377.6" font-size="6.6" fill="#141414" text-anchor="end" transform="rotate(-45 69.2 377.6)" textLength="32.16" lengthAdjust="spacingAndGlyphs" dominant-baseline="central">N/KRASmut</text>
<text x="86.65" y="377.6" font-size="6.6" fill="#141414" text-anchor="end" transform="rotate(-45 86.65 377.6)" textLength="32.54" lengthAdjust="spacingAndGlyphs" dominant-baseline="central">PTPN11mut</text>
<text x="104.1" y="377.6" font-size="6.6" fill="#141414" text-anchor="end" transform="rotate(-45 104.1 377.6)" textLength="27.67" lengthAdjust="spacingAndGlyphs" dominant-baseline="central">NPM1mut</text>
<text x="121.55" y="377.6" font-size="6.6" fill="#141414" text-anchor="end" transform="rotate(-45 121.55 377.6)" textLength="29.33" lengthAdjust="spacingAndGlyphs" dominant-baseline="central">CEBPAmut</text>
<text x="139" y="377.6" font-size="6.6" fill="#141414" text-anchor="end" transform="rotate(-45 139 377.6)" textLength="24.55" lengthAdjust="spacingAndGlyphs" dominant-baseline="central">MLL-PTD</text>
<text x="213.5" y="301" font-size="6.75" fill="#141414" text-anchor="middle" textLength="57.09" lengthAdjust="spacingAndGlyphs" style="stroke-width:0.2px">cKITmut GSE17855</text>
<line x1="162.5" y1="307" x2="162.5" y2="369.8" stroke="#141414" stroke-width="1.25"/>
<line x1="159.1" y1="308.6" x2="162.5" y2="308.6" stroke="#141414" stroke-width="1.25"/>
<text x="156.5" y="310.85" font-size="7.14" fill="#141414" text-anchor="end" textLength="6.08" lengthAdjust="spacingAndGlyphs">10</text>
<line x1="159.1" y1="329" x2="162.5" y2="329" stroke="#141414" stroke-width="1.25"/>
<text x="156.5" y="331.25" font-size="7.14" fill="#141414" text-anchor="end" textLength="2.95" lengthAdjust="spacingAndGlyphs">8</text>
<line x1="159.1" y1="349.4" x2="162.5" y2="349.4" stroke="#141414" stroke-width="1.25"/>
<text x="156.5" y="351.65" font-size="7.14" fill="#141414" text-anchor="end" textLength="2.95" lengthAdjust="spacingAndGlyphs">6</text>
<line x1="159.1" y1="369.8" x2="162.5" y2="369.8" stroke="#141414" stroke-width="1.25"/>
<text x="156.5" y="372.05" font-size="7.14" fill="#141414" text-anchor="end" textLength="2.95" lengthAdjust="spacingAndGlyphs">4</text>
<line x1="162.5" y1="369.8" x2="263.8" y2="369.8" stroke="#141414" stroke-width="1.25"/>
<line x1="177.5" y1="369.8" x2="177.5" y2="372.4" stroke="#141414" stroke-width="1.25"/>
<line x1="201.3" y1="369.8" x2="201.3" y2="372.4" stroke="#141414" stroke-width="1.25"/>
<line x1="225.1" y1="369.8" x2="225.1" y2="372.4" stroke="#141414" stroke-width="1.25"/>
<line x1="248.9" y1="369.8" x2="248.9" y2="372.4" stroke="#141414" stroke-width="1.25"/>
<circle cx="176" cy="353.8" r="1.31" fill="#41608f"/>
<circle cx="178.7" cy="354.5" r="1.31" fill="#41608f"/>
<circle cx="173" cy="357" r="1.31" fill="#41608f"/>
<circle cx="175" cy="358.5" r="1.31" fill="#41608f"/>
<circle cx="177.5" cy="357.8" r="1.31" fill="#41608f"/>
<circle cx="180" cy="358" r="1.31" fill="#41608f"/>
<circle cx="182" cy="357.2" r="1.31" fill="#41608f"/>
<circle cx="174" cy="360.2" r="1.31" fill="#41608f"/>
<circle cx="176.5" cy="361" r="1.31" fill="#41608f"/>
<circle cx="179" cy="361.5" r="1.31" fill="#41608f"/>
<circle cx="181" cy="360.5" r="1.31" fill="#41608f"/>
<circle cx="177.5" cy="362.5" r="1.31" fill="#41608f"/>
<circle cx="177" cy="359.5" r="1.31" fill="#41608f"/>
<circle cx="183" cy="358.8" r="1.31" fill="#41608f"/>
<circle cx="172" cy="359.2" r="1.31" fill="#41608f"/>
<line x1="171" y1="358.8" x2="184" y2="358.8" stroke="#111" stroke-width="1.15"/>
<rect x="200.2" y="345.2" width="2.2" height="2.2" fill="#a0283f"/>
<circle cx="225.1" cy="359.5" r="0.95" fill="#41608f"/>
<path d="M247.2 328.94L248.58 326.44L245.83 326.44Z" fill="#a0283f"/>
<path d="M250.7 329.44L252.08 326.94L249.33 326.94Z" fill="#a0283f"/>
<path d="M248.9 341.44L250.28 338.94L247.53 338.94Z" fill="#a0283f"/>
<path d="M249.4 347.74L250.78 345.24L248.03 345.24Z" fill="#a0283f"/>
<path d="M247.4 351.44L248.78 348.94L246.03 348.94Z" fill="#a0283f"/>
<path d="M250.4 353.94L251.78 351.44L249.03 351.44Z" fill="#a0283f"/>
<path d="M248.9 357.94L250.28 355.44L247.53 355.44Z" fill="#a0283f"/>
<path d="M247.7 359.04L249.08 356.54L246.33 356.54Z" fill="#a0283f"/>
<path d="M250.1 358.74L251.47 356.24L248.72 356.24Z" fill="#a0283f"/>
<line x1="244.4" y1="345.5" x2="253.4" y2="345.5" stroke="#111" stroke-width="1.15"/>
<line x1="248.9" y1="340.8" x2="248.9" y2="350.5" stroke="#a0283f" stroke-width="0.8"/>
<line x1="246.6" y1="340.8" x2="251.2" y2="340.8" stroke="#a0283f" stroke-width="0.8"/>
<line x1="246.6" y1="350.5" x2="251.2" y2="350.5" stroke="#a0283f" stroke-width="0.8"/>
<text x="249.2" y="322.5" font-size="5.4" fill="#333" text-anchor="middle" textLength="16" lengthAdjust="spacingAndGlyphs">p=0.03</text>
<text x="179.3" y="377.6" font-size="6.6" fill="#141414" text-anchor="end" transform="rotate(-45 179.3 377.6)" textLength="18.7" lengthAdjust="spacingAndGlyphs" dominant-baseline="central">inv(16)</text>
<text x="203.1" y="377.6" font-size="6.6" fill="#141414" text-anchor="end" transform="rotate(-45 203.1 377.6)" textLength="17.06" lengthAdjust="spacingAndGlyphs" dominant-baseline="central">11q23</text>
<text x="226.9" y="377.6" font-size="6.6" fill="#141414" text-anchor="end" transform="rotate(-45 226.9 377.6)" textLength="17.26" lengthAdjust="spacingAndGlyphs" dominant-baseline="central">t(7;12)</text>
<text x="250.7" y="377.6" font-size="6.6" fill="#141414" text-anchor="end" transform="rotate(-45 250.7 377.6)" textLength="17.26" lengthAdjust="spacingAndGlyphs" dominant-baseline="central">t(8;21)</text>
<text x="0" y="0" font-size="11.2" fill="#111" style="stroke:none" transform="translate(270.5 289.7) scale(0.86 1)">F</text>
<line x1="297.8" y1="308.8" x2="297.8" y2="369.6" stroke="#141414" stroke-width="1.25"/>
<line x1="294.4" y1="324.7" x2="297.8" y2="324.7" stroke="#141414" stroke-width="1.25"/>
<text x="291.8" y="326.95" font-size="7.14" fill="#141414" text-anchor="end" textLength="9.2" lengthAdjust="spacingAndGlyphs">100</text>
<line x1="294.4" y1="347.15" x2="297.8" y2="347.15" stroke="#141414" stroke-width="1.25"/>
<text x="291.8" y="349.4" font-size="7.14" fill="#141414" text-anchor="end" textLength="6.08" lengthAdjust="spacingAndGlyphs">50</text>
<line x1="294.4" y1="369.6" x2="297.8" y2="369.6" stroke="#141414" stroke-width="1.25"/>
<text x="291.8" y="371.85" font-size="7.14" fill="#141414" text-anchor="end" textLength="2.95" lengthAdjust="spacingAndGlyphs">0</text>
<line x1="297.8" y1="369.6" x2="388.8" y2="369.6" stroke="#141414" stroke-width="1.25"/>
<line x1="309.6" y1="369.6" x2="309.6" y2="372.2" stroke="#141414" stroke-width="1.25"/>
<line x1="332.5" y1="369.6" x2="332.5" y2="372.2" stroke="#141414" stroke-width="1.25"/>
<line x1="355.4" y1="369.6" x2="355.4" y2="372.2" stroke="#141414" stroke-width="1.25"/>
<line x1="378.3" y1="369.6" x2="378.3" y2="372.2" stroke="#141414" stroke-width="1.25"/>
<text x="274.6" y="339.5" font-size="6.85" fill="#141414" text-anchor="middle" transform="rotate(-90 274.6 339.5)" textLength="25.98" lengthAdjust="spacingAndGlyphs" dominant-baseline="central" style="stroke-width:0.16px">% of MFI</text>
<circle cx="309.6" cy="321" r="1.31" fill="#41608f"/>
<circle cx="309.1" cy="324.3" r="1.31" fill="#41608f"/>
<circle cx="310.1" cy="327.8" r="1.31" fill="#41608f"/>
<line x1="309.6" y1="321.6" x2="309.6" y2="327.4" stroke="#41608f" stroke-width="0.8"/>
<line x1="307.2" y1="321.6" x2="312" y2="321.6" stroke="#41608f" stroke-width="0.8"/>
<line x1="307.2" y1="327.4" x2="312" y2="327.4" stroke="#41608f" stroke-width="0.8"/>
<line x1="302" y1="324.3" x2="317.2" y2="324.3" stroke="#111" stroke-width="1.15"/>
<rect x="331.25" y="310.05" width="2.5" height="2.5" fill="#41608f"/>
<rect x="331.25" y="320.75" width="2.5" height="2.5" fill="#41608f"/>
<rect x="331.25" y="329.85" width="2.5" height="2.5" fill="#41608f"/>
<line x1="332.5" y1="315.5" x2="332.5" y2="327.4" stroke="#41608f" stroke-width="0.8"/>
<line x1="330.1" y1="315.5" x2="334.9" y2="315.5" stroke="#41608f" stroke-width="0.8"/>
<line x1="330.1" y1="327.4" x2="334.9" y2="327.4" stroke="#41608f" stroke-width="0.8"/>
<line x1="325.1" y1="321.4" x2="339.9" y2="321.4" stroke="#111" stroke-width="1.15"/>
<path d="M355.4 337.36L356.78 339.86L354.03 339.86Z" fill="#a0283f"/>
<path d="M356.6 342.46L357.98 344.96L355.23 344.96Z" fill="#a0283f"/>
<path d="M354.2 341.36L355.58 343.86L352.83 343.86Z" fill="#a0283f"/>
<line x1="355.4" y1="340.5" x2="355.4" y2="344.8" stroke="#a0283f" stroke-width="0.8"/>
<line x1="353" y1="340.5" x2="357.8" y2="340.5" stroke="#a0283f" stroke-width="0.8"/>
<line x1="353" y1="344.8" x2="357.8" y2="344.8" stroke="#a0283f" stroke-width="0.8"/>
<line x1="348" y1="342.4" x2="362.8" y2="342.4" stroke="#111" stroke-width="1.15"/>
<path d="M377.3 345.84L378.68 343.34L375.93 343.34Z" fill="#a0283f"/>
<path d="M379.3 346.44L380.68 343.94L377.93 343.94Z" fill="#a0283f"/>
<path d="M378.3 351.74L379.68 349.24L376.93 349.24Z" fill="#a0283f"/>
<line x1="378.3" y1="345.8" x2="378.3" y2="349" stroke="#a0283f" stroke-width="0.8"/>
<line x1="375.9" y1="345.8" x2="380.7" y2="345.8" stroke="#a0283f" stroke-width="0.8"/>
<line x1="375.9" y1="349" x2="380.7" y2="349" stroke="#a0283f" stroke-width="0.8"/>
<line x1="370.9" y1="347.5" x2="385.7" y2="347.5" stroke="#111" stroke-width="1.15"/>
<line x1="307.8" y1="336" x2="334.9" y2="336" stroke="#505050" stroke-width="1.15"/>
<text x="321.2" y="341.3" font-size="5" fill="#333" text-anchor="middle" textLength="31.4" lengthAdjust="spacingAndGlyphs">non-targeting</text>
<line x1="308.3" y1="353" x2="355.3" y2="353" stroke="#383838" stroke-width="0.95"/>
<line x1="308.3" y1="351.7" x2="308.3" y2="354.3" stroke="#383838" stroke-width="0.95"/>
<line x1="355.3" y1="351.7" x2="355.3" y2="354.3" stroke="#383838" stroke-width="0.95"/>
<text x="331.6" y="350.5" font-size="5.4" fill="#333" text-anchor="middle" textLength="15" lengthAdjust="spacingAndGlyphs">p=0.03</text>
<line x1="308.3" y1="358.9" x2="378.5" y2="358.9" stroke="#383838" stroke-width="0.95"/>
<line x1="308.3" y1="357.6" x2="308.3" y2="360.2" stroke="#383838" stroke-width="0.95"/>
<line x1="378.5" y1="357.6" x2="378.5" y2="360.2" stroke="#383838" stroke-width="0.95"/>
<text x="342.9" y="365.9" font-size="5.4" fill="#333" text-anchor="middle" textLength="18" lengthAdjust="spacingAndGlyphs">p=0.009</text>
<text x="311.4" y="377.4" font-size="6.6" fill="#141414" text-anchor="end" transform="rotate(-45 311.4 377.4)" textLength="8.17" lengthAdjust="spacingAndGlyphs" dominant-baseline="central">Scr</text>
<text x="334.3" y="377.4" font-size="6.6" fill="#141414" text-anchor="end" transform="rotate(-45 334.3 377.4)" textLength="26.7" lengthAdjust="spacingAndGlyphs" dominant-baseline="central">sh_AF9_5</text>
<text x="357.2" y="377.4" font-size="6.6" fill="#141414" text-anchor="end" transform="rotate(-45 357.2 377.4)" textLength="26.7" lengthAdjust="spacingAndGlyphs" dominant-baseline="central">sh_AF9_3</text>
<text x="380.1" y="377.4" font-size="6.6" fill="#141414" text-anchor="end" transform="rotate(-45 380.1 377.4)" textLength="33.82" lengthAdjust="spacingAndGlyphs" dominant-baseline="central">sh_MLL/AF9</text>
<line x1="421.3" y1="305.5" x2="421.3" y2="369.5" stroke="#141414" stroke-width="1.25"/>
<line x1="417.9" y1="308.7" x2="421.3" y2="308.7" stroke="#141414" stroke-width="1.25"/>
<text x="415.3" y="310.95" font-size="7.14" fill="#141414" text-anchor="end" textLength="9.2" lengthAdjust="spacingAndGlyphs">110</text>
<line x1="417.9" y1="323.9" x2="421.3" y2="323.9" stroke="#141414" stroke-width="1.25"/>
<text x="415.3" y="326.15" font-size="7.14" fill="#141414" text-anchor="end" textLength="9.2" lengthAdjust="spacingAndGlyphs">100</text>
<line x1="417.9" y1="339.1" x2="421.3" y2="339.1" stroke="#141414" stroke-width="1.25"/>
<text x="415.3" y="341.35" font-size="7.14" fill="#141414" text-anchor="end" textLength="6.08" lengthAdjust="spacingAndGlyphs">90</text>
<line x1="417.9" y1="354.3" x2="421.3" y2="354.3" stroke="#141414" stroke-width="1.25"/>
<text x="415.3" y="356.55" font-size="7.14" fill="#141414" text-anchor="end" textLength="6.08" lengthAdjust="spacingAndGlyphs">80</text>
<line x1="417.9" y1="369.5" x2="421.3" y2="369.5" stroke="#141414" stroke-width="1.25"/>
<text x="415.3" y="371.75" font-size="7.14" fill="#141414" text-anchor="end" textLength="6.08" lengthAdjust="spacingAndGlyphs">70</text>
<line x1="421.3" y1="369.5" x2="513.3" y2="369.5" stroke="#141414" stroke-width="1.25"/>
<line x1="432.5" y1="369.5" x2="432.5" y2="372.1" stroke="#141414" stroke-width="1.25"/>
<line x1="455.4" y1="369.5" x2="455.4" y2="372.1" stroke="#141414" stroke-width="1.25"/>
<line x1="478.3" y1="369.5" x2="478.3" y2="372.1" stroke="#141414" stroke-width="1.25"/>
<line x1="501.2" y1="369.5" x2="501.2" y2="372.1" stroke="#141414" stroke-width="1.25"/>
<text x="397" y="338.2" font-size="6.85" fill="#141414" text-anchor="middle" transform="rotate(-90 397 338.2)" textLength="25.98" lengthAdjust="spacingAndGlyphs" dominant-baseline="central" style="stroke-width:0.16px">% of MFI</text>
<circle cx="431.3" cy="323.2" r="1.31" fill="#1d2f4f"/>
<circle cx="432.5" cy="325.2" r="1.31" fill="#1d2f4f"/>
<circle cx="433.9" cy="324" r="1.31" fill="#1d2f4f"/>
<line x1="425.1" y1="324.2" x2="439.9" y2="324.2" stroke="#111" stroke-width="1.15"/>
<circle cx="455.4" cy="310.2" r="1.31" fill="#41608f"/>
<circle cx="455.4" cy="315.6" r="1.31" fill="#41608f"/>
<circle cx="455.4" cy="335.2" r="1.31" fill="#41608f"/>
<line x1="455.4" y1="312.3" x2="455.4" y2="327.5" stroke="#41608f" stroke-width="0.8"/>
<line x1="453" y1="312.3" x2="457.8" y2="312.3" stroke="#41608f" stroke-width="0.8"/>
<line x1="453" y1="327.5" x2="457.8" y2="327.5" stroke="#41608f" stroke-width="0.8"/>
<line x1="448" y1="320.4" x2="462.8" y2="320.4" stroke="#111" stroke-width="1.15"/>
<path d="M478.3 355.06L479.68 357.56L476.93 357.56Z" fill="#a0283f"/>
<path d="M478.3 358.86L479.68 361.36L476.93 361.36Z" fill="#a0283f"/>
<path d="M478.3 361.76L479.68 364.26L476.93 364.26Z" fill="#a0283f"/>
<line x1="478.3" y1="357" x2="478.3" y2="362" stroke="#a0283f" stroke-width="0.8"/>
<line x1="475.9" y1="357" x2="480.7" y2="357" stroke="#a0283f" stroke-width="0.8"/>
<line x1="475.9" y1="362" x2="480.7" y2="362" stroke="#a0283f" stroke-width="0.8"/>
<line x1="470.7" y1="359.2" x2="485.9" y2="359.2" stroke="#111" stroke-width="1.15"/>
<path d="M501.2 351.24L502.57 348.74L499.82 348.74Z" fill="#a0283f"/>
<path d="M500 356.24L501.38 353.74L498.62 353.74Z" fill="#a0283f"/>
<path d="M502.4 357.24L503.77 354.74L501.02 354.74Z" fill="#a0283f"/>
<line x1="501.2" y1="351.8" x2="501.2" y2="356.5" stroke="#a0283f" stroke-width="0.8"/>
<line x1="498.8" y1="351.8" x2="503.6" y2="351.8" stroke="#a0283f" stroke-width="0.8"/>
<line x1="498.8" y1="356.5" x2="503.6" y2="356.5" stroke="#a0283f" stroke-width="0.8"/>
<line x1="493.6" y1="354" x2="508.8" y2="354" stroke="#111" stroke-width="1.15"/>
<line x1="428.7" y1="339" x2="456" y2="339" stroke="#505050" stroke-width="1.15"/>
<text x="442.6" y="344.5" font-size="5" fill="#333" text-anchor="middle" textLength="31.4" lengthAdjust="spacingAndGlyphs">non-targeting</text>
<line x1="431.5" y1="296.9" x2="500.4" y2="296.9" stroke="#383838" stroke-width="0.95"/>
<line x1="431.5" y1="295.6" x2="431.5" y2="298.2" stroke="#383838" stroke-width="0.95"/>
<line x1="500.4" y1="295.6" x2="500.4" y2="298.2" stroke="#383838" stroke-width="0.95"/>
<text x="465.8" y="294.5" font-size="5.4" fill="#333" text-anchor="middle" textLength="15" lengthAdjust="spacingAndGlyphs">p=0.02</text>
<line x1="431.5" y1="306.5" x2="478" y2="306.5" stroke="#383838" stroke-width="0.95"/>
<line x1="431.5" y1="305.2" x2="431.5" y2="307.8" stroke="#383838" stroke-width="0.95"/>
<line x1="478" y1="305.2" x2="478" y2="307.8" stroke="#383838" stroke-width="0.95"/>
<text x="454.6" y="304.5" font-size="5.4" fill="#333" text-anchor="middle" textLength="15" lengthAdjust="spacingAndGlyphs">p=0.01</text>
<text x="434.3" y="377.3" font-size="6.6" fill="#141414" text-anchor="end" transform="rotate(-45 434.3 377.3)" textLength="8.17" lengthAdjust="spacingAndGlyphs" dominant-baseline="central">Scr</text>
<text x="457.2" y="377.3" font-size="6.6" fill="#141414" text-anchor="end" transform="rotate(-45 457.2 377.3)" textLength="26.7" lengthAdjust="spacingAndGlyphs" dominant-baseline="central">sh_AF9_5</text>
<text x="480.1" y="377.3" font-size="6.6" fill="#141414" text-anchor="end" transform="rotate(-45 480.1 377.3)" textLength="26.7" lengthAdjust="spacingAndGlyphs" dominant-baseline="central">sh_AF9_3</text>
<text x="503" y="377.3" font-size="6.6" fill="#141414" text-anchor="end" transform="rotate(-45 503 377.3)" textLength="33.82" lengthAdjust="spacingAndGlyphs" dominant-baseline="central">sh_MLL/AF9</text>
<text x="0" y="0" font-size="11.2" fill="#111" style="stroke:none" transform="translate(6.55 430.5) scale(0.86 1)">G</text>
<text x="82.5" y="436.8" font-size="6.75" fill="#141414" text-anchor="middle" style="stroke-width:0.2px" textLength="32.8" lengthAdjust="spacingAndGlyphs">STAT <tspan font-style="italic">Motif</tspan></text>
<line x1="36.3" y1="441.3" x2="36.3" y2="504.5" stroke="#141414" stroke-width="1.25"/>
<line x1="32.9" y1="443" x2="36.3" y2="443" stroke="#141414" stroke-width="1.25"/>
<text x="30.3" y="445.25" font-size="7.14" fill="#141414" text-anchor="end" textLength="2.95" lengthAdjust="spacingAndGlyphs">1</text>
<line x1="32.9" y1="467.5" x2="36.3" y2="467.5" stroke="#141414" stroke-width="1.25"/>
<text x="30.3" y="469.75" font-size="7.14" fill="#141414" text-anchor="end" textLength="2.95" lengthAdjust="spacingAndGlyphs">0</text>
<line x1="32.9" y1="492" x2="36.3" y2="492" stroke="#141414" stroke-width="1.25"/>
<text x="30.3" y="494.25" font-size="7.14" fill="#141414" text-anchor="end" textLength="4.82" lengthAdjust="spacingAndGlyphs">-1</text>
<line x1="36.3" y1="504.5" x2="127.5" y2="504.5" stroke="#141414" stroke-width="0.9"/>
<line x1="37.3" y1="467.5" x2="127.5" y2="467.5" stroke="#8a8a8a" stroke-width="0.6" stroke-dasharray="1.8 1.1"/>
<text x="51.8" y="512.7" font-size="5.83" fill="#141414" text-anchor="middle" textLength="7.12" lengthAdjust="spacingAndGlyphs">1U</text>
<text x="82" y="512.7" font-size="5.83" fill="#141414" text-anchor="middle" textLength="7.12" lengthAdjust="spacingAndGlyphs">2U</text>
<text x="112.5" y="512.7" font-size="5.83" fill="#141414" text-anchor="middle" textLength="7.12" lengthAdjust="spacingAndGlyphs">4U</text>
<text x="82.5" y="523.7" font-size="6.85" fill="#141414" text-anchor="middle" textLength="22.51" lengthAdjust="spacingAndGlyphs" style="stroke-width:0.16px">DNAseI</text>
<text x="20.2" y="474" font-size="6.85" fill="#141414" text-anchor="middle" transform="rotate(-90 20.2 474)" textLength="23.16" lengthAdjust="spacingAndGlyphs" dominant-baseline="central" style="stroke-width:0.16px">Log2FC</text>
<path d="M51.8 467.5 L82 482.5 L112.5 495" fill="none" stroke="#a0283f" stroke-width="1.35"/>
<line x1="82" y1="475.5" x2="82" y2="490" stroke="#a0283f" stroke-width="0.8"/>
<line x1="80.9" y1="475.5" x2="83.1" y2="475.5" stroke="#a0283f" stroke-width="0.8"/>
<line x1="80.9" y1="490" x2="83.1" y2="490" stroke="#a0283f" stroke-width="0.8"/>
<line x1="112.5" y1="486" x2="112.5" y2="503.8" stroke="#a0283f" stroke-width="0.8"/>
<line x1="111.4" y1="486" x2="113.6" y2="486" stroke="#a0283f" stroke-width="0.8"/>
<line x1="111.4" y1="503.8" x2="113.6" y2="503.8" stroke="#a0283f" stroke-width="0.8"/>
<rect x="50.65" y="466.35" width="2.3" height="2.3" fill="#a0283f"/>
<rect x="80.85" y="481.35" width="2.3" height="2.3" fill="#a0283f"/>
<rect x="111.35" y="493.85" width="2.3" height="2.3" fill="#a0283f"/>
<path d="M51.8 467.5 L82 470.8 L112.5 492.5" fill="none" stroke="#41608f" stroke-width="1.35"/>
<line x1="82" y1="469" x2="82" y2="472.5" stroke="#41608f" stroke-width="0.8"/>
<line x1="80.9" y1="469" x2="83.1" y2="469" stroke="#41608f" stroke-width="0.8"/>
<line x1="80.9" y1="472.5" x2="83.1" y2="472.5" stroke="#41608f" stroke-width="0.8"/>
<line x1="112.5" y1="483" x2="112.5" y2="502.5" stroke="#41608f" stroke-width="0.8"/>
<line x1="111.4" y1="483" x2="113.6" y2="483" stroke="#41608f" stroke-width="0.8"/>
<line x1="111.4" y1="502.5" x2="113.6" y2="502.5" stroke="#41608f" stroke-width="0.8"/>
<rect x="50.65" y="466.35" width="2.3" height="2.3" fill="#41608f"/>
<rect x="80.85" y="469.65" width="2.3" height="2.3" fill="#41608f"/>
<rect x="111.35" y="491.35" width="2.3" height="2.3" fill="#41608f"/>
<path d="M51.8 467.5 L82 461.8 L112.5 462" fill="none" stroke="#6aab4f" stroke-width="1.35"/>
<line x1="82" y1="460" x2="82" y2="464" stroke="#6aab4f" stroke-width="0.8"/>
<line x1="80.9" y1="460" x2="83.1" y2="460" stroke="#6aab4f" stroke-width="0.8"/>
<line x1="80.9" y1="464" x2="83.1" y2="464" stroke="#6aab4f" stroke-width="0.8"/>
<line x1="112.5" y1="460.5" x2="112.5" y2="463.5" stroke="#6aab4f" stroke-width="0.8"/>
<line x1="111.4" y1="460.5" x2="113.6" y2="460.5" stroke="#6aab4f" stroke-width="0.8"/>
<line x1="111.4" y1="463.5" x2="113.6" y2="463.5" stroke="#6aab4f" stroke-width="0.8"/>
<rect x="50.65" y="466.35" width="2.3" height="2.3" fill="#6aab4f"/>
<rect x="80.85" y="460.65" width="2.3" height="2.3" fill="#6aab4f"/>
<rect x="111.35" y="460.85" width="2.3" height="2.3" fill="#6aab4f"/>
<text x="212" y="436.8" font-size="6.75" fill="#141414" text-anchor="middle" style="stroke-width:0.2px" textLength="36.03" lengthAdjust="spacingAndGlyphs">MEIS1 <tspan font-style="italic">Motif</tspan></text>
<line x1="166.8" y1="443.8" x2="166.8" y2="504.5" stroke="#141414" stroke-width="1.25"/>
<line x1="163.4" y1="446.8" x2="166.8" y2="446.8" stroke="#141414" stroke-width="1.25"/>
<text x="160.8" y="449.05" font-size="7.14" fill="#141414" text-anchor="end" textLength="2.95" lengthAdjust="spacingAndGlyphs">1</text>
<line x1="163.4" y1="466.3" x2="166.8" y2="466.3" stroke="#141414" stroke-width="1.25"/>
<text x="160.8" y="468.55" font-size="7.14" fill="#141414" text-anchor="end" textLength="2.95" lengthAdjust="spacingAndGlyphs">0</text>
<line x1="163.4" y1="485.5" x2="166.8" y2="485.5" stroke="#141414" stroke-width="1.25"/>
<text x="160.8" y="487.75" font-size="7.14" fill="#141414" text-anchor="end" textLength="4.82" lengthAdjust="spacingAndGlyphs">-1</text>
<line x1="163.4" y1="504.5" x2="166.8" y2="504.5" stroke="#141414" stroke-width="1.25"/>
<text x="160.8" y="506.75" font-size="7.14" fill="#141414" text-anchor="end" textLength="4.82" lengthAdjust="spacingAndGlyphs">-2</text>
<line x1="166.8" y1="504.5" x2="257.5" y2="504.5" stroke="#141414" stroke-width="0.9"/>
<line x1="167.8" y1="466.3" x2="257.5" y2="466.3" stroke="#8a8a8a" stroke-width="0.6" stroke-dasharray="1.8 1.1"/>
<text x="181.8" y="512.7" font-size="5.83" fill="#141414" text-anchor="middle" textLength="7.12" lengthAdjust="spacingAndGlyphs">1U</text>
<text x="212" y="512.7" font-size="5.83" fill="#141414" text-anchor="middle" textLength="7.12" lengthAdjust="spacingAndGlyphs">2U</text>
<text x="242.5" y="512.7" font-size="5.83" fill="#141414" text-anchor="middle" textLength="7.12" lengthAdjust="spacingAndGlyphs">4U</text>
<text x="207.5" y="523.7" font-size="6.85" fill="#141414" text-anchor="middle" textLength="22.51" lengthAdjust="spacingAndGlyphs" style="stroke-width:0.16px">DNAseI</text>
<text x="148" y="470.5" font-size="6.85" fill="#141414" text-anchor="middle" transform="rotate(-90 148 470.5)" textLength="23.16" lengthAdjust="spacingAndGlyphs" dominant-baseline="central" style="stroke-width:0.16px">Log2FC</text>
<path d="M181.8 466.3 L212 481.2 L242.5 496.5" fill="none" stroke="#a0283f" stroke-width="1.35"/>
<line x1="212" y1="479.5" x2="212" y2="483" stroke="#a0283f" stroke-width="0.8"/>
<line x1="210.9" y1="479.5" x2="213.1" y2="479.5" stroke="#a0283f" stroke-width="0.8"/>
<line x1="210.9" y1="483" x2="213.1" y2="483" stroke="#a0283f" stroke-width="0.8"/>
<line x1="242.5" y1="495.5" x2="242.5" y2="497.5" stroke="#a0283f" stroke-width="0.8"/>
<line x1="241.4" y1="495.5" x2="243.6" y2="495.5" stroke="#a0283f" stroke-width="0.8"/>
<line x1="241.4" y1="497.5" x2="243.6" y2="497.5" stroke="#a0283f" stroke-width="0.8"/>
<rect x="180.65" y="465.15" width="2.3" height="2.3" fill="#a0283f"/>
<rect x="210.85" y="480.05" width="2.3" height="2.3" fill="#a0283f"/>
<rect x="241.35" y="495.35" width="2.3" height="2.3" fill="#a0283f"/>
<path d="M181.8 466.3 L212 476.5 L242.5 494.8" fill="none" stroke="#41608f" stroke-width="1.35"/>
<line x1="212" y1="475.5" x2="212" y2="477.5" stroke="#41608f" stroke-width="0.8"/>
<line x1="210.9" y1="475.5" x2="213.1" y2="475.5" stroke="#41608f" stroke-width="0.8"/>
<line x1="210.9" y1="477.5" x2="213.1" y2="477.5" stroke="#41608f" stroke-width="0.8"/>
<line x1="242.5" y1="493.8" x2="242.5" y2="495.8" stroke="#41608f" stroke-width="0.8"/>
<line x1="241.4" y1="493.8" x2="243.6" y2="493.8" stroke="#41608f" stroke-width="0.8"/>
<line x1="241.4" y1="495.8" x2="243.6" y2="495.8" stroke="#41608f" stroke-width="0.8"/>
<rect x="180.65" y="465.15" width="2.3" height="2.3" fill="#41608f"/>
<rect x="210.85" y="475.35" width="2.3" height="2.3" fill="#41608f"/>
<rect x="241.35" y="493.65" width="2.3" height="2.3" fill="#41608f"/>
<path d="M181.8 466.3 L212 453.3 L242.5 453.3" fill="none" stroke="#6aab4f" stroke-width="1.35"/>
<line x1="212" y1="448" x2="212" y2="458.8" stroke="#6aab4f" stroke-width="0.8"/>
<line x1="210.9" y1="448" x2="213.1" y2="448" stroke="#6aab4f" stroke-width="0.8"/>
<line x1="210.9" y1="458.8" x2="213.1" y2="458.8" stroke="#6aab4f" stroke-width="0.8"/>
<line x1="242.5" y1="449.5" x2="242.5" y2="457.5" stroke="#6aab4f" stroke-width="0.8"/>
<line x1="241.4" y1="449.5" x2="243.6" y2="449.5" stroke="#6aab4f" stroke-width="0.8"/>
<line x1="241.4" y1="457.5" x2="243.6" y2="457.5" stroke="#6aab4f" stroke-width="0.8"/>
<rect x="180.65" y="465.15" width="2.3" height="2.3" fill="#6aab4f"/>
<rect x="210.85" y="452.15" width="2.3" height="2.3" fill="#6aab4f"/>
<rect x="241.35" y="452.15" width="2.3" height="2.3" fill="#6aab4f"/>
<text x="339.5" y="436.8" font-size="6.75" fill="#141414" text-anchor="middle" style="stroke-width:0.2px" textLength="34.24" lengthAdjust="spacingAndGlyphs">MEF2 <tspan font-style="italic">Motif</tspan></text>
<line x1="293.8" y1="441.3" x2="293.8" y2="504.5" stroke="#141414" stroke-width="1.25"/>
<line x1="290.4" y1="443" x2="293.8" y2="443" stroke="#141414" stroke-width="1.25"/>
<text x="287.8" y="445.25" font-size="7.14" fill="#141414" text-anchor="end" textLength="2.95" lengthAdjust="spacingAndGlyphs">1</text>
<line x1="290.4" y1="467.5" x2="293.8" y2="467.5" stroke="#141414" stroke-width="1.25"/>
<text x="287.8" y="469.75" font-size="7.14" fill="#141414" text-anchor="end" textLength="2.95" lengthAdjust="spacingAndGlyphs">0</text>
<line x1="290.4" y1="492" x2="293.8" y2="492" stroke="#141414" stroke-width="1.25"/>
<text x="287.8" y="494.25" font-size="7.14" fill="#141414" text-anchor="end" textLength="4.82" lengthAdjust="spacingAndGlyphs">-1</text>
<line x1="293.8" y1="504.5" x2="385" y2="504.5" stroke="#141414" stroke-width="0.9"/>
<line x1="294.8" y1="467.5" x2="385" y2="467.5" stroke="#8a8a8a" stroke-width="0.6" stroke-dasharray="1.8 1.1"/>
<text x="309.3" y="512.7" font-size="5.83" fill="#141414" text-anchor="middle" textLength="7.12" lengthAdjust="spacingAndGlyphs">1U</text>
<text x="339.5" y="512.7" font-size="5.83" fill="#141414" text-anchor="middle" textLength="7.12" lengthAdjust="spacingAndGlyphs">2U</text>
<text x="370" y="512.7" font-size="5.83" fill="#141414" text-anchor="middle" textLength="7.12" lengthAdjust="spacingAndGlyphs">4U</text>
<text x="339.5" y="523.7" font-size="6.85" fill="#141414" text-anchor="middle" textLength="22.51" lengthAdjust="spacingAndGlyphs" style="stroke-width:0.16px">DNAseI</text>
<text x="277" y="468.8" font-size="6.85" fill="#141414" text-anchor="middle" transform="rotate(-90 277 468.8)" textLength="23.16" lengthAdjust="spacingAndGlyphs" dominant-baseline="central" style="stroke-width:0.16px">Log2FC</text>
<path d="M309.3 467.5 L339.5 484.5 L370 493.8" fill="none" stroke="#a0283f" stroke-width="1.35"/>
<line x1="339.5" y1="482" x2="339.5" y2="487" stroke="#a0283f" stroke-width="0.8"/>
<line x1="338.4" y1="482" x2="340.6" y2="482" stroke="#a0283f" stroke-width="0.8"/>
<line x1="338.4" y1="487" x2="340.6" y2="487" stroke="#a0283f" stroke-width="0.8"/>
<line x1="370" y1="489.5" x2="370" y2="499.5" stroke="#a0283f" stroke-width="0.8"/>
<line x1="368.9" y1="489.5" x2="371.1" y2="489.5" stroke="#a0283f" stroke-width="0.8"/>
<line x1="368.9" y1="499.5" x2="371.1" y2="499.5" stroke="#a0283f" stroke-width="0.8"/>
<rect x="308.15" y="466.35" width="2.3" height="2.3" fill="#a0283f"/>
<rect x="338.35" y="483.35" width="2.3" height="2.3" fill="#a0283f"/>
<rect x="368.85" y="492.65" width="2.3" height="2.3" fill="#a0283f"/>
<path d="M309.3 467.5 L339.5 469 L370 486.5" fill="none" stroke="#41608f" stroke-width="1.35"/>
<line x1="339.5" y1="468" x2="339.5" y2="470" stroke="#41608f" stroke-width="0.8"/>
<line x1="338.4" y1="468" x2="340.6" y2="468" stroke="#41608f" stroke-width="0.8"/>
<line x1="338.4" y1="470" x2="340.6" y2="470" stroke="#41608f" stroke-width="0.8"/>
<line x1="370" y1="483" x2="370" y2="490" stroke="#41608f" stroke-width="0.8"/>
<line x1="368.9" y1="483" x2="371.1" y2="483" stroke="#41608f" stroke-width="0.8"/>
<line x1="368.9" y1="490" x2="371.1" y2="490" stroke="#41608f" stroke-width="0.8"/>
<rect x="308.15" y="466.35" width="2.3" height="2.3" fill="#41608f"/>
<rect x="338.35" y="467.85" width="2.3" height="2.3" fill="#41608f"/>
<rect x="368.85" y="485.35" width="2.3" height="2.3" fill="#41608f"/>
<path d="M309.3 467.5 L339.5 458 L370 464.3" fill="none" stroke="#6aab4f" stroke-width="1.35"/>
<line x1="339.5" y1="454.5" x2="339.5" y2="461.3" stroke="#6aab4f" stroke-width="0.8"/>
<line x1="338.4" y1="454.5" x2="340.6" y2="454.5" stroke="#6aab4f" stroke-width="0.8"/>
<line x1="338.4" y1="461.3" x2="340.6" y2="461.3" stroke="#6aab4f" stroke-width="0.8"/>
<line x1="370" y1="459.5" x2="370" y2="468.8" stroke="#6aab4f" stroke-width="0.8"/>
<line x1="368.9" y1="459.5" x2="371.1" y2="459.5" stroke="#6aab4f" stroke-width="0.8"/>
<line x1="368.9" y1="468.8" x2="371.1" y2="468.8" stroke="#6aab4f" stroke-width="0.8"/>
<rect x="308.15" y="466.35" width="2.3" height="2.3" fill="#6aab4f"/>
<rect x="338.35" y="456.85" width="2.3" height="2.3" fill="#6aab4f"/>
<rect x="368.85" y="463.15" width="2.3" height="2.3" fill="#6aab4f"/>
<line x1="388.5" y1="447.7" x2="395.4" y2="447.7" stroke="#6aab4f" stroke-width="1.2"/>
<path d="M392 446.14L393.56 447.7L392 449.26L390.44 447.7Z" fill="#6aab4f"/>
<text x="397.7" y="449.4" font-size="4.8" fill="#333" textLength="12" lengthAdjust="spacingAndGlyphs">HL60</text>
<line x1="388.5" y1="456.6" x2="395.4" y2="456.6" stroke="#41608f" stroke-width="1.2"/>
<path d="M392 455.04L393.56 456.6L392 458.16L390.44 456.6Z" fill="#41608f"/>
<text x="397.7" y="458.3" font-size="4.8" fill="#333" textLength="22" lengthAdjust="spacingAndGlyphs">MOLM-14</text>
<line x1="388.5" y1="465.7" x2="395.4" y2="465.7" stroke="#a0283f" stroke-width="1.2"/>
<path d="M392 464.14L393.56 465.7L392 467.26L390.44 465.7Z" fill="#a0283f"/>
<text x="397.7" y="467.4" font-size="4.8" fill="#333" textLength="19.5" lengthAdjust="spacingAndGlyphs">NOMO-1</text>
<text x="0" y="0" font-size="11.2" fill="#111" style="stroke:none" transform="translate(6.75 550.7) scale(0.86 1)">H</text>
<text x="82.5" y="556.6" font-size="6.75" fill="#141414" text-anchor="middle" textLength="29.73" lengthAdjust="spacingAndGlyphs" style="stroke-width:0.2px">MOLM-14</text>
<line x1="37" y1="582.5" x2="37" y2="646" stroke="#141414" stroke-width="1.25"/>
<line x1="33.6" y1="585.25" x2="37" y2="585.25" stroke="#141414" stroke-width="1.25"/>
<text x="31" y="587.5" font-size="7.14" fill="#141414" text-anchor="end" textLength="9.2" lengthAdjust="spacingAndGlyphs">120</text>
<line x1="33.6" y1="597.4" x2="37" y2="597.4" stroke="#141414" stroke-width="1.25"/>
<text x="31" y="599.65" font-size="7.14" fill="#141414" text-anchor="end" textLength="9.2" lengthAdjust="spacingAndGlyphs">100</text>
<line x1="33.6" y1="609.55" x2="37" y2="609.55" stroke="#141414" stroke-width="1.25"/>
<text x="31" y="611.8" font-size="7.14" fill="#141414" text-anchor="end" textLength="6.08" lengthAdjust="spacingAndGlyphs">80</text>
<line x1="33.6" y1="621.7" x2="37" y2="621.7" stroke="#141414" stroke-width="1.25"/>
<text x="31" y="623.95" font-size="7.14" fill="#141414" text-anchor="end" textLength="6.08" lengthAdjust="spacingAndGlyphs">60</text>
<line x1="33.6" y1="633.85" x2="37" y2="633.85" stroke="#141414" stroke-width="1.25"/>
<text x="31" y="636.1" font-size="7.14" fill="#141414" text-anchor="end" textLength="6.08" lengthAdjust="spacingAndGlyphs">40</text>
<line x1="33.6" y1="646" x2="37" y2="646" stroke="#141414" stroke-width="1.25"/>
<text x="31" y="648.25" font-size="7.14" fill="#141414" text-anchor="end" textLength="6.08" lengthAdjust="spacingAndGlyphs">20</text>
<line x1="37" y1="646" x2="122.5" y2="646" stroke="#141414" stroke-width="1.25"/>
<line x1="47.5" y1="646" x2="47.5" y2="648.6" stroke="#141414" stroke-width="1.25"/>
<line x1="70.4" y1="646" x2="70.4" y2="648.6" stroke="#141414" stroke-width="1.25"/>
<line x1="93.3" y1="646" x2="93.3" y2="648.6" stroke="#141414" stroke-width="1.25"/>
<line x1="116.2" y1="646" x2="116.2" y2="648.6" stroke="#141414" stroke-width="1.25"/>
<text x="12.2" y="613.8" font-size="6.85" fill="#141414" text-anchor="middle" transform="rotate(-90 12.2 613.8)" textLength="25.98" lengthAdjust="spacingAndGlyphs" dominant-baseline="central" style="stroke-width:0.16px">% of MFI</text>
<circle cx="47.5" cy="586.9" r="1.31" fill="#a0283f"/>
<circle cx="47.5" cy="599.9" r="1.31" fill="#a0283f"/>
<circle cx="47.5" cy="604.8" r="1.31" fill="#a0283f"/>
<line x1="47.5" y1="591.8" x2="47.5" y2="602.5" stroke="#a0283f" stroke-width="0.8"/>
<line x1="45" y1="591.8" x2="50" y2="591.8" stroke="#a0283f" stroke-width="0.8"/>
<line x1="45" y1="602.5" x2="50" y2="602.5" stroke="#a0283f" stroke-width="0.8"/>
<line x1="40.8" y1="597.2" x2="55.5" y2="597.2" stroke="#111" stroke-width="1.2"/>
<path d="M70.4 615.36L71.78 617.86L69.03 617.86Z" fill="#a0283f"/>
<path d="M70.4 621.36L71.78 623.86L69.03 623.86Z" fill="#a0283f"/>
<path d="M68.9 631.16L70.28 633.66L67.53 633.66Z" fill="#a0283f"/>
<path d="M71.9 634.96L73.28 637.46L70.53 637.46Z" fill="#a0283f"/>
<path d="M70.4 639.36L71.78 641.86L69.03 641.86Z" fill="#a0283f"/>
<path d="M68.8 629.56L70.18 632.06L67.43 632.06Z" fill="#a0283f"/>
<line x1="70.4" y1="625.8" x2="70.4" y2="632.6" stroke="#a0283f" stroke-width="0.8"/>
<line x1="67.9" y1="625.8" x2="72.9" y2="625.8" stroke="#a0283f" stroke-width="0.8"/>
<line x1="67.9" y1="632.6" x2="72.9" y2="632.6" stroke="#a0283f" stroke-width="0.8"/>
<line x1="63.2" y1="629.3" x2="77.9" y2="629.3" stroke="#111" stroke-width="1.2"/>
<path d="M93.3 596.44L94.67 593.94L91.92 593.94Z" fill="#a0283f"/>
<path d="M93.3 599.94L94.67 597.44L91.92 597.44Z" fill="#a0283f"/>
<path d="M90.1 605.64L91.47 603.14L88.72 603.14Z" fill="#a0283f"/>
<path d="M96.5 602.64L97.88 600.14L95.12 600.14Z" fill="#a0283f"/>
<path d="M93.3 605.94L94.67 603.44L91.92 603.44Z" fill="#a0283f"/>
<path d="M93.3 610.34L94.67 607.84L91.92 607.84Z" fill="#a0283f"/>
<line x1="93.3" y1="600.4" x2="93.3" y2="604.5" stroke="#a0283f" stroke-width="0.8"/>
<line x1="90.8" y1="600.4" x2="95.8" y2="600.4" stroke="#a0283f" stroke-width="0.8"/>
<line x1="90.8" y1="604.5" x2="95.8" y2="604.5" stroke="#a0283f" stroke-width="0.8"/>
<line x1="86.1" y1="602.4" x2="100.8" y2="602.4" stroke="#111" stroke-width="1.2"/>
<circle cx="113.7" cy="591.1" r="1.31" fill="#a0283f"/>
<circle cx="118.7" cy="591.1" r="1.31" fill="#a0283f"/>
<circle cx="116.2" cy="602.9" r="1.31" fill="#a0283f"/>
<line x1="116.2" y1="592.3" x2="116.2" y2="599.3" stroke="#a0283f" stroke-width="0.8"/>
<line x1="113.7" y1="592.3" x2="118.7" y2="592.3" stroke="#a0283f" stroke-width="0.8"/>
<line x1="113.7" y1="599.3" x2="118.7" y2="599.3" stroke="#a0283f" stroke-width="0.8"/>
<line x1="109" y1="595.2" x2="123.7" y2="595.2" stroke="#111" stroke-width="1.2"/>
<line x1="47.5" y1="583" x2="71.8" y2="583" stroke="#383838" stroke-width="0.95"/>
<line x1="47.5" y1="581.7" x2="47.5" y2="584.3" stroke="#383838" stroke-width="0.95"/>
<line x1="71.8" y1="581.7" x2="71.8" y2="584.3" stroke="#383838" stroke-width="0.95"/>
<text x="59.3" y="579.9" font-size="5.4" fill="#333" text-anchor="middle" textLength="18" lengthAdjust="spacingAndGlyphs">p=0.005</text>
<text x="49.3" y="653.8" font-size="6.6" fill="#141414" text-anchor="end" transform="rotate(-45 49.3 653.8)" textLength="8.17" lengthAdjust="spacingAndGlyphs" dominant-baseline="central">Scr</text>
<text x="72.2" y="653.8" font-size="6.6" fill="#141414" text-anchor="end" transform="rotate(-45 72.2 653.8)" textLength="23.32" lengthAdjust="spacingAndGlyphs" dominant-baseline="central">shSTAT1</text>
<text x="95.1" y="653.8" font-size="6.6" fill="#141414" text-anchor="end" transform="rotate(-45 95.1 653.8)" textLength="22.85" lengthAdjust="spacingAndGlyphs" dominant-baseline="central">shMEIS1</text>
<text x="118" y="653.8" font-size="6.6" fill="#141414" text-anchor="end" transform="rotate(-45 118 653.8)" textLength="24.19" lengthAdjust="spacingAndGlyphs" dominant-baseline="central">shMEF2c</text>
<text x="216.3" y="556.6" font-size="6.75" fill="#141414" text-anchor="middle" textLength="26.5" lengthAdjust="spacingAndGlyphs" style="stroke-width:0.2px">NOMO-1</text>
<line x1="171.3" y1="585" x2="171.3" y2="645.5" stroke="#141414" stroke-width="1.25"/>
<line x1="167.9" y1="593.08" x2="171.3" y2="593.08" stroke="#141414" stroke-width="1.25"/>
<text x="165.3" y="595.33" font-size="7.14" fill="#141414" text-anchor="end" textLength="9.2" lengthAdjust="spacingAndGlyphs">100</text>
<line x1="167.9" y1="610.55" x2="171.3" y2="610.55" stroke="#141414" stroke-width="1.25"/>
<text x="165.3" y="612.8" font-size="7.14" fill="#141414" text-anchor="end" textLength="6.08" lengthAdjust="spacingAndGlyphs">80</text>
<line x1="167.9" y1="628.03" x2="171.3" y2="628.03" stroke="#141414" stroke-width="1.25"/>
<text x="165.3" y="630.28" font-size="7.14" fill="#141414" text-anchor="end" textLength="6.08" lengthAdjust="spacingAndGlyphs">60</text>
<line x1="167.9" y1="645.5" x2="171.3" y2="645.5" stroke="#141414" stroke-width="1.25"/>
<text x="165.3" y="647.75" font-size="7.14" fill="#141414" text-anchor="end" textLength="6.08" lengthAdjust="spacingAndGlyphs">40</text>
<line x1="171.3" y1="645.5" x2="260" y2="645.5" stroke="#141414" stroke-width="1.25"/>
<line x1="182.5" y1="645.5" x2="182.5" y2="648.1" stroke="#141414" stroke-width="1.25"/>
<line x1="205.4" y1="645.5" x2="205.4" y2="648.1" stroke="#141414" stroke-width="1.25"/>
<line x1="228.3" y1="645.5" x2="228.3" y2="648.1" stroke="#141414" stroke-width="1.25"/>
<line x1="251.2" y1="645.5" x2="251.2" y2="648.1" stroke="#141414" stroke-width="1.25"/>
<text x="147" y="615" font-size="6.85" fill="#141414" text-anchor="middle" transform="rotate(-90 147 615)" textLength="25.98" lengthAdjust="spacingAndGlyphs" dominant-baseline="central" style="stroke-width:0.16px">% of MFI</text>
<circle cx="182.5" cy="586.4" r="1.31" fill="#a0283f"/>
<circle cx="182.5" cy="594.7" r="1.31" fill="#a0283f"/>
<circle cx="182.5" cy="599.9" r="1.31" fill="#a0283f"/>
<line x1="182.5" y1="589.9" x2="182.5" y2="597.3" stroke="#a0283f" stroke-width="0.8"/>
<line x1="180" y1="589.9" x2="185" y2="589.9" stroke="#a0283f" stroke-width="0.8"/>
<line x1="180" y1="597.3" x2="185" y2="597.3" stroke="#a0283f" stroke-width="0.8"/>
<line x1="175.1" y1="593.3" x2="190.2" y2="593.3" stroke="#111" stroke-width="1.2"/>
<path d="M203.5 596.36L204.88 598.86L202.12 598.86Z" fill="#a0283f"/>
<path d="M207.4 599.86L208.78 602.36L206.03 602.36Z" fill="#a0283f"/>
<path d="M203.2 614.86L204.58 617.36L201.83 617.36Z" fill="#a0283f"/>
<path d="M205.4 613.06L206.78 615.56L204.03 615.56Z" fill="#a0283f"/>
<path d="M207.4 616.96L208.78 619.46L206.03 619.46Z" fill="#a0283f"/>
<path d="M205.4 621.26L206.78 623.76L204.03 623.76Z" fill="#a0283f"/>
<line x1="205.4" y1="607.3" x2="205.4" y2="615.5" stroke="#a0283f" stroke-width="0.8"/>
<line x1="202.9" y1="607.3" x2="207.9" y2="607.3" stroke="#a0283f" stroke-width="0.8"/>
<line x1="202.9" y1="615.5" x2="207.9" y2="615.5" stroke="#a0283f" stroke-width="0.8"/>
<line x1="197.6" y1="611.7" x2="213.2" y2="611.7" stroke="#111" stroke-width="1.2"/>
<path d="M228.3 600.44L229.68 597.94L226.93 597.94Z" fill="#a0283f"/>
<path d="M228.3 607.94L229.68 605.44L226.93 605.44Z" fill="#a0283f"/>
<path d="M226.5 618.64L227.88 616.14L225.12 616.14Z" fill="#a0283f"/>
<path d="M230.5 621.24L231.88 618.74L229.12 618.74Z" fill="#a0283f"/>
<path d="M228.3 632.14L229.68 629.64L226.93 629.64Z" fill="#a0283f"/>
<line x1="228.3" y1="609.8" x2="228.3" y2="618.9" stroke="#a0283f" stroke-width="0.8"/>
<line x1="225.8" y1="609.8" x2="230.8" y2="609.8" stroke="#a0283f" stroke-width="0.8"/>
<line x1="225.8" y1="618.9" x2="230.8" y2="618.9" stroke="#a0283f" stroke-width="0.8"/>
<line x1="220.4" y1="614.3" x2="236" y2="614.3" stroke="#111" stroke-width="1.2"/>
<circle cx="251.2" cy="627.1" r="1.31" fill="#a0283f"/>
<circle cx="251.2" cy="632" r="1.31" fill="#a0283f"/>
<circle cx="251.2" cy="636.7" r="1.31" fill="#a0283f"/>
<line x1="251.2" y1="630.2" x2="251.2" y2="635" stroke="#a0283f" stroke-width="0.8"/>
<line x1="248.7" y1="630.2" x2="253.7" y2="630.2" stroke="#a0283f" stroke-width="0.8"/>
<line x1="248.7" y1="635" x2="253.7" y2="635" stroke="#a0283f" stroke-width="0.8"/>
<line x1="243.5" y1="632.4" x2="258.5" y2="632.4" stroke="#111" stroke-width="1.2"/>
<line x1="182" y1="570.5" x2="250" y2="570.5" stroke="#383838" stroke-width="0.95"/>
<line x1="182" y1="569.2" x2="182" y2="571.8" stroke="#383838" stroke-width="0.95"/>
<line x1="250" y1="569.2" x2="250" y2="571.8" stroke="#383838" stroke-width="0.95"/>
<text x="220.5" y="567.2" font-size="5.4" fill="#333" text-anchor="middle" textLength="18" lengthAdjust="spacingAndGlyphs">p=0.008</text>
<line x1="182" y1="582" x2="227.5" y2="582" stroke="#383838" stroke-width="0.95"/>
<line x1="182" y1="580.7" x2="182" y2="583.3" stroke="#383838" stroke-width="0.95"/>
<line x1="227.5" y1="580.7" x2="227.5" y2="583.3" stroke="#383838" stroke-width="0.95"/>
<text x="204.3" y="578.9" font-size="5.4" fill="#333" text-anchor="middle" textLength="15" lengthAdjust="spacingAndGlyphs">p=0.05</text>
<text x="184.3" y="653.3" font-size="6.6" fill="#141414" text-anchor="end" transform="rotate(-45 184.3 653.3)" textLength="8.17" lengthAdjust="spacingAndGlyphs" dominant-baseline="central">Scr</text>
<text x="207.2" y="653.3" font-size="6.6" fill="#141414" text-anchor="end" transform="rotate(-45 207.2 653.3)" textLength="23.32" lengthAdjust="spacingAndGlyphs" dominant-baseline="central">shSTAT1</text>
<text x="230.1" y="653.3" font-size="6.6" fill="#141414" text-anchor="end" transform="rotate(-45 230.1 653.3)" textLength="22.85" lengthAdjust="spacingAndGlyphs" dominant-baseline="central">shMEIS1</text>
<text x="253" y="653.3" font-size="6.6" fill="#141414" text-anchor="end" transform="rotate(-45 253 653.3)" textLength="24.19" lengthAdjust="spacingAndGlyphs" dominant-baseline="central">shMEF2c</text>
<text x="351.3" y="556.6" font-size="6.75" fill="#141414" text-anchor="middle" textLength="16.95" lengthAdjust="spacingAndGlyphs" style="stroke-width:0.2px">SKM1</text>
<line x1="305.8" y1="585.5" x2="305.8" y2="645.5" stroke="#141414" stroke-width="1.25"/>
<line x1="302.4" y1="587.5" x2="305.8" y2="587.5" stroke="#141414" stroke-width="1.25"/>
<text x="299.8" y="589.75" font-size="7.14" fill="#141414" text-anchor="end" textLength="9.2" lengthAdjust="spacingAndGlyphs">140</text>
<line x1="302.4" y1="599.1" x2="305.8" y2="599.1" stroke="#141414" stroke-width="1.25"/>
<text x="299.8" y="601.35" font-size="7.14" fill="#141414" text-anchor="end" textLength="9.2" lengthAdjust="spacingAndGlyphs">120</text>
<line x1="302.4" y1="610.7" x2="305.8" y2="610.7" stroke="#141414" stroke-width="1.25"/>
<text x="299.8" y="612.95" font-size="7.14" fill="#141414" text-anchor="end" textLength="9.2" lengthAdjust="spacingAndGlyphs">100</text>
<line x1="302.4" y1="622.3" x2="305.8" y2="622.3" stroke="#141414" stroke-width="1.25"/>
<text x="299.8" y="624.55" font-size="7.14" fill="#141414" text-anchor="end" textLength="6.08" lengthAdjust="spacingAndGlyphs">80</text>
<line x1="302.4" y1="633.9" x2="305.8" y2="633.9" stroke="#141414" stroke-width="1.25"/>
<text x="299.8" y="636.15" font-size="7.14" fill="#141414" text-anchor="end" textLength="6.08" lengthAdjust="spacingAndGlyphs">60</text>
<line x1="302.4" y1="645.5" x2="305.8" y2="645.5" stroke="#141414" stroke-width="1.25"/>
<text x="299.8" y="647.75" font-size="7.14" fill="#141414" text-anchor="end" textLength="6.08" lengthAdjust="spacingAndGlyphs">40</text>
<line x1="305.8" y1="645.5" x2="397.5" y2="645.5" stroke="#141414" stroke-width="1.25"/>
<line x1="317.5" y1="645.5" x2="317.5" y2="648.1" stroke="#141414" stroke-width="1.25"/>
<line x1="340.2" y1="645.5" x2="340.2" y2="648.1" stroke="#141414" stroke-width="1.25"/>
<line x1="362.9" y1="645.5" x2="362.9" y2="648.1" stroke="#141414" stroke-width="1.25"/>
<line x1="385.6" y1="645.5" x2="385.6" y2="648.1" stroke="#141414" stroke-width="1.25"/>
<text x="282" y="615" font-size="6.85" fill="#141414" text-anchor="middle" transform="rotate(-90 282 615)" textLength="25.98" lengthAdjust="spacingAndGlyphs" dominant-baseline="central" style="stroke-width:0.16px">% of MFI</text>
<circle cx="317.5" cy="608.2" r="1.31" fill="#a0283f"/>
<circle cx="315.7" cy="611.8" r="1.31" fill="#a0283f"/>
<circle cx="319.3" cy="611.5" r="1.31" fill="#a0283f"/>
<circle cx="315.7" cy="613.6" r="1.31" fill="#a0283f"/>
<line x1="309.6" y1="610.9" x2="324.7" y2="610.9" stroke="#111" stroke-width="1.2"/>
<path d="M338.2 619.16L339.57 621.66L336.82 621.66Z" fill="#a0283f"/>
<path d="M342.5 619.66L343.88 622.16L341.12 622.16Z" fill="#a0283f"/>
<path d="M338.6 629.26L339.97 631.76L337.22 631.76Z" fill="#a0283f"/>
<line x1="340.2" y1="622.8" x2="340.2" y2="627.4" stroke="#a0283f" stroke-width="0.8"/>
<line x1="337.7" y1="622.8" x2="342.7" y2="622.8" stroke="#a0283f" stroke-width="0.8"/>
<line x1="337.7" y1="627.4" x2="342.7" y2="627.4" stroke="#a0283f" stroke-width="0.8"/>
<line x1="332.4" y1="624.6" x2="348" y2="624.6" stroke="#111" stroke-width="1.2"/>
<path d="M356.9 606.84L358.27 604.34L355.52 604.34Z" fill="#a0283f"/>
<path d="M359.6 607.24L360.97 604.74L358.22 604.74Z" fill="#a0283f"/>
<path d="M362.9 605.04L364.27 602.54L361.52 602.54Z" fill="#a0283f"/>
<path d="M362.9 609.64L364.27 607.14L361.52 607.14Z" fill="#a0283f"/>
<path d="M366.6 607.24L367.97 604.74L365.22 604.74Z" fill="#a0283f"/>
<path d="M369.1 606.84L370.47 604.34L367.72 604.34Z" fill="#a0283f"/>
<line x1="355.3" y1="606.3" x2="370.8" y2="606.3" stroke="#111" stroke-width="1.2"/>
<circle cx="385.6" cy="585.7" r="1.31" fill="#a0283f"/>
<circle cx="385.6" cy="591.7" r="1.31" fill="#a0283f"/>
<line x1="385.6" y1="586.8" x2="385.6" y2="590.4" stroke="#a0283f" stroke-width="0.8"/>
<line x1="383.1" y1="586.8" x2="388.1" y2="586.8" stroke="#a0283f" stroke-width="0.8"/>
<line x1="383.1" y1="590.4" x2="388.1" y2="590.4" stroke="#a0283f" stroke-width="0.8"/>
<line x1="378.7" y1="588.4" x2="394" y2="588.4" stroke="#111" stroke-width="1.2"/>
<line x1="317" y1="603.3" x2="341.3" y2="603.3" stroke="#383838" stroke-width="0.95"/>
<line x1="317" y1="602" x2="317" y2="604.6" stroke="#383838" stroke-width="0.95"/>
<line x1="341.3" y1="602" x2="341.3" y2="604.6" stroke="#383838" stroke-width="0.95"/>
<text x="328.8" y="600.1" font-size="5.4" fill="#333" text-anchor="middle" textLength="15" lengthAdjust="spacingAndGlyphs">p=0.02</text>
<text x="319.3" y="653.3" font-size="6.6" fill="#141414" text-anchor="end" transform="rotate(-45 319.3 653.3)" textLength="8.17" lengthAdjust="spacingAndGlyphs" dominant-baseline="central">Scr</text>
<text x="342" y="653.3" font-size="6.6" fill="#141414" text-anchor="end" transform="rotate(-45 342 653.3)" textLength="23.32" lengthAdjust="spacingAndGlyphs" dominant-baseline="central">shSTAT1</text>
<text x="364.7" y="653.3" font-size="6.6" fill="#141414" text-anchor="end" transform="rotate(-45 364.7 653.3)" textLength="22.85" lengthAdjust="spacingAndGlyphs" dominant-baseline="central">shMEIS1</text>
<text x="387.4" y="653.3" font-size="6.6" fill="#141414" text-anchor="end" transform="rotate(-45 387.4 653.3)" textLength="24.19" lengthAdjust="spacingAndGlyphs" dominant-baseline="central">shMEF2c</text>
</svg></body></html>
